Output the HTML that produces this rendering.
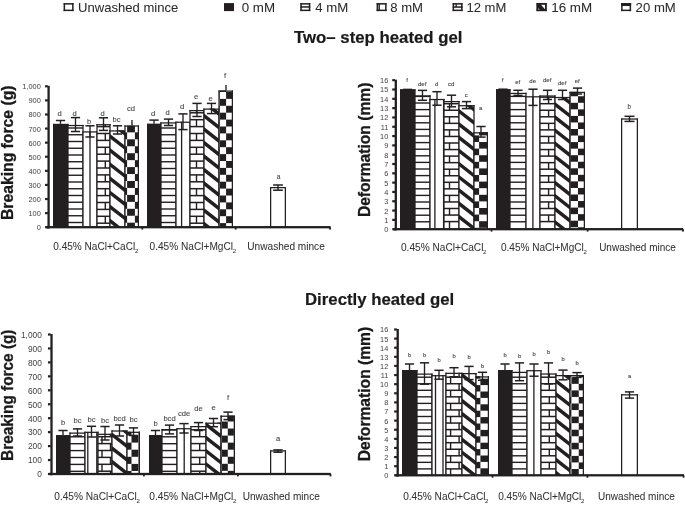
<!DOCTYPE html>
<html><head><meta charset="utf-8"><style>
html,body{margin:0;padding:0;background:#fff;}
body{width:685px;height:505px;overflow:hidden;}
svg{display:block;font-family:"Liberation Sans",sans-serif;will-change:transform;filter:blur(0.3px);}
</style></head><body>
<svg width="685" height="505" viewBox="0 0 685 505">
<defs><clipPath id="c0"><rect x="53" y="123.9" width="15" height="103.3"/></clipPath><clipPath id="c1"><rect x="68" y="124.9" width="15" height="102.3"/></clipPath><clipPath id="c2"><rect x="83" y="131.3" width="14" height="95.9"/></clipPath><clipPath id="c3"><rect x="97" y="124.1" width="13" height="103.1"/></clipPath><clipPath id="c4"><rect x="110" y="130.3" width="15" height="96.9"/></clipPath><clipPath id="c5"><rect x="125" y="125.4" width="14" height="101.8"/></clipPath><clipPath id="c6"><rect x="147" y="123.8" width="14" height="103.4"/></clipPath><clipPath id="c7"><rect x="161" y="122.3" width="15" height="104.9"/></clipPath><clipPath id="c8"><rect x="176" y="121.6" width="14" height="105.6"/></clipPath><clipPath id="c9"><rect x="190" y="110" width="14" height="117.2"/></clipPath><clipPath id="c10"><rect x="204" y="108.5" width="15" height="118.7"/></clipPath><clipPath id="c11"><rect x="219" y="90.5" width="14" height="136.7"/></clipPath><clipPath id="c12"><rect x="270" y="187" width="16" height="40.2"/></clipPath><clipPath id="c13"><rect x="400" y="89.4" width="15" height="139.8"/></clipPath><clipPath id="c14"><rect x="415" y="95.3" width="15" height="133.9"/></clipPath><clipPath id="c15"><rect x="430" y="98.9" width="14" height="130.3"/></clipPath><clipPath id="c16"><rect x="444" y="101" width="15" height="128.2"/></clipPath><clipPath id="c17"><rect x="459" y="105.1" width="15" height="124.1"/></clipPath><clipPath id="c18"><rect x="474" y="132.2" width="14" height="97"/></clipPath><clipPath id="c19"><rect x="496" y="89.2" width="14" height="140"/></clipPath><clipPath id="c20"><rect x="510" y="92.8" width="16" height="136.4"/></clipPath><clipPath id="c21"><rect x="526" y="96.2" width="14" height="133"/></clipPath><clipPath id="c22"><rect x="540" y="95.4" width="15" height="133.8"/></clipPath><clipPath id="c23"><rect x="555" y="96.9" width="15" height="132.3"/></clipPath><clipPath id="c24"><rect x="570" y="91.8" width="15" height="137.4"/></clipPath><clipPath id="c25"><rect x="621" y="118.4" width="17" height="110.8"/></clipPath><clipPath id="c26"><rect x="56" y="435.2" width="14" height="38.8"/></clipPath><clipPath id="c27"><rect x="70" y="432.5" width="15" height="41.5"/></clipPath><clipPath id="c28"><rect x="85" y="431.7" width="13" height="42.3"/></clipPath><clipPath id="c29"><rect x="98" y="433.7" width="14" height="40.3"/></clipPath><clipPath id="c30"><rect x="112" y="430.4" width="15" height="43.6"/></clipPath><clipPath id="c31"><rect x="127" y="431.7" width="13" height="42.3"/></clipPath><clipPath id="c32"><rect x="149" y="435" width="13" height="39"/></clipPath><clipPath id="c33"><rect x="162" y="429.1" width="15" height="44.9"/></clipPath><clipPath id="c34"><rect x="177" y="428.1" width="14" height="45.9"/></clipPath><clipPath id="c35"><rect x="191" y="426" width="15" height="48"/></clipPath><clipPath id="c36"><rect x="206" y="422.6" width="15" height="51.4"/></clipPath><clipPath id="c37"><rect x="221" y="415.6" width="14" height="58.4"/></clipPath><clipPath id="c38"><rect x="270" y="450.3" width="16" height="23.7"/></clipPath><clipPath id="c39"><rect x="402" y="370.1" width="15" height="105.2"/></clipPath><clipPath id="c40"><rect x="417" y="373.5" width="15" height="101.8"/></clipPath><clipPath id="c41"><rect x="432" y="375.1" width="14" height="100.2"/></clipPath><clipPath id="c42"><rect x="446" y="372.7" width="16" height="102.6"/></clipPath><clipPath id="c43"><rect x="462" y="373" width="14" height="102.3"/></clipPath><clipPath id="c44"><rect x="476" y="376.3" width="13" height="99"/></clipPath><clipPath id="c45"><rect x="498" y="370.1" width="14" height="105.2"/></clipPath><clipPath id="c46"><rect x="512" y="371.8" width="15" height="103.5"/></clipPath><clipPath id="c47"><rect x="527" y="370.1" width="14" height="105.2"/></clipPath><clipPath id="c48"><rect x="541" y="373.4" width="15" height="101.9"/></clipPath><clipPath id="c49"><rect x="556" y="375" width="14" height="100.3"/></clipPath><clipPath id="c50"><rect x="570" y="375" width="14" height="100.3"/></clipPath><clipPath id="c51"><rect x="621" y="394.2" width="17" height="81.1"/></clipPath></defs>
<rect x="53" y="123.9" width="15" height="103.3" fill="#231f20"/>
<rect x="53" y="123.9" width="1.25" height="103.3" fill="#231f20"/>
<rect x="67.38" y="123.9" width="1.25" height="103.3" fill="#231f20"/>
<rect x="53" y="123.9" width="15.62" height="1.25" fill="#231f20"/>
<line x1="60.5" y1="120.5" x2="60.5" y2="123.9" stroke="#231f20" stroke-width="1.35"/>
<line x1="55.9" y1="120.5" x2="65.1" y2="120.5" stroke="#231f20" stroke-width="1.5"/>
<text x="59.5" y="116.14" font-size="7.6" text-anchor="middle" font-weight="normal" fill="#444" stroke="#444" stroke-width="0.1">d</text>
<rect x="68" y="124.9" width="15" height="102.3" fill="#fff"/>
<g clip-path="url(#c1)">
<rect x="68" y="221.8" width="15" height="1.4" fill="#231f20"/>
<rect x="68" y="215.05" width="15" height="1.4" fill="#231f20"/>
<rect x="68" y="208.3" width="15" height="1.4" fill="#231f20"/>
<rect x="68" y="201.55" width="15" height="1.4" fill="#231f20"/>
<rect x="68" y="194.8" width="15" height="1.4" fill="#231f20"/>
<rect x="68" y="188.05" width="15" height="1.4" fill="#231f20"/>
<rect x="68" y="181.3" width="15" height="1.4" fill="#231f20"/>
<rect x="68" y="174.55" width="15" height="1.4" fill="#231f20"/>
<rect x="68" y="167.8" width="15" height="1.4" fill="#231f20"/>
<rect x="68" y="161.05" width="15" height="1.4" fill="#231f20"/>
<rect x="68" y="154.3" width="15" height="1.4" fill="#231f20"/>
<rect x="68" y="147.55" width="15" height="1.4" fill="#231f20"/>
<rect x="68" y="140.8" width="15" height="1.4" fill="#231f20"/>
<rect x="68" y="134.05" width="15" height="1.4" fill="#231f20"/>
<rect x="68" y="127.3" width="15" height="1.4" fill="#231f20"/>
</g>
<rect x="67.38" y="124.9" width="1.25" height="102.3" fill="#231f20"/>
<rect x="82.38" y="124.9" width="1.25" height="102.3" fill="#231f20"/>
<rect x="67.38" y="124.9" width="16.25" height="1.25" fill="#231f20"/>
<line x1="75.5" y1="117.6" x2="75.5" y2="131.5" stroke="#231f20" stroke-width="1.35"/>
<line x1="70.9" y1="117.6" x2="80.1" y2="117.6" stroke="#231f20" stroke-width="1.5"/>
<line x1="70.9" y1="131.5" x2="80.1" y2="131.5" stroke="#231f20" stroke-width="1.5"/>
<text x="74.5" y="116.14" font-size="7.6" text-anchor="middle" font-weight="normal" fill="#444" stroke="#444" stroke-width="0.1">d</text>
<rect x="83" y="131.3" width="14" height="95.9" fill="#fff"/>
<g clip-path="url(#c2)">
<rect x="89.35" y="131.3" width="1.3" height="95.9" fill="#231f20"/>
</g>
<rect x="82.38" y="131.3" width="1.25" height="95.9" fill="#231f20"/>
<rect x="96.38" y="131.3" width="1.25" height="95.9" fill="#231f20"/>
<rect x="82.38" y="131.3" width="15.25" height="1.25" fill="#231f20"/>
<line x1="90" y1="125.8" x2="90" y2="137" stroke="#231f20" stroke-width="1.35"/>
<line x1="85.4" y1="125.8" x2="94.6" y2="125.8" stroke="#231f20" stroke-width="1.5"/>
<line x1="85.4" y1="137" x2="94.6" y2="137" stroke="#231f20" stroke-width="1.5"/>
<text x="89" y="123.84" font-size="7.6" text-anchor="middle" font-weight="normal" fill="#444" stroke="#444" stroke-width="0.1">b</text>
<rect x="97" y="124.1" width="13" height="103.1" fill="#fff"/>
<g clip-path="url(#c3)">
<rect x="97" y="222.45" width="13" height="1.5" fill="#231f20"/>
<rect x="97" y="215.55" width="13" height="1.5" fill="#231f20"/>
<rect x="97" y="208.65" width="13" height="1.5" fill="#231f20"/>
<rect x="97" y="201.75" width="13" height="1.5" fill="#231f20"/>
<rect x="97" y="194.85" width="13" height="1.5" fill="#231f20"/>
<rect x="97" y="187.95" width="13" height="1.5" fill="#231f20"/>
<rect x="97" y="181.05" width="13" height="1.5" fill="#231f20"/>
<rect x="97" y="174.15" width="13" height="1.5" fill="#231f20"/>
<rect x="97" y="167.25" width="13" height="1.5" fill="#231f20"/>
<rect x="97" y="160.35" width="13" height="1.5" fill="#231f20"/>
<rect x="97" y="153.45" width="13" height="1.5" fill="#231f20"/>
<rect x="97" y="146.55" width="13" height="1.5" fill="#231f20"/>
<rect x="97" y="139.65" width="13" height="1.5" fill="#231f20"/>
<rect x="97" y="132.75" width="13" height="1.5" fill="#231f20"/>
<rect x="97" y="125.85" width="13" height="1.5" fill="#231f20"/>
<rect x="97" y="118.95" width="13" height="1.5" fill="#231f20"/>
<rect x="104.6" y="216.3" width="1.4" height="6.9" fill="#231f20"/>
<rect x="104.6" y="202.5" width="1.4" height="6.9" fill="#231f20"/>
<rect x="104.6" y="188.7" width="1.4" height="6.9" fill="#231f20"/>
<rect x="104.6" y="174.9" width="1.4" height="6.9" fill="#231f20"/>
<rect x="104.6" y="161.1" width="1.4" height="6.9" fill="#231f20"/>
<rect x="104.6" y="147.3" width="1.4" height="6.9" fill="#231f20"/>
<rect x="104.6" y="133.5" width="1.4" height="6.9" fill="#231f20"/>
<rect x="104.6" y="119.7" width="1.4" height="6.9" fill="#231f20"/>
</g>
<rect x="96.38" y="124.1" width="1.25" height="103.1" fill="#231f20"/>
<rect x="109.38" y="124.1" width="1.25" height="103.1" fill="#231f20"/>
<rect x="96.38" y="124.1" width="14.25" height="1.25" fill="#231f20"/>
<line x1="103.5" y1="117.8" x2="103.5" y2="130.4" stroke="#231f20" stroke-width="1.35"/>
<line x1="98.9" y1="117.8" x2="108.1" y2="117.8" stroke="#231f20" stroke-width="1.5"/>
<line x1="98.9" y1="130.4" x2="108.1" y2="130.4" stroke="#231f20" stroke-width="1.5"/>
<text x="102.5" y="115.84" font-size="7.6" text-anchor="middle" font-weight="normal" fill="#444" stroke="#444" stroke-width="0.1">d</text>
<rect x="110" y="130.3" width="15" height="96.9" fill="#fff"/>
<g clip-path="url(#c4)">
<polygon points="110,260.9 125,272.6 125,277 110,265.3" fill="#231f20"/>
<polygon points="110,246.8 125,258.5 125,262.9 110,251.2" fill="#231f20"/>
<polygon points="110,232.7 125,244.4 125,248.8 110,237.1" fill="#231f20"/>
<polygon points="110,218.6 125,230.3 125,234.7 110,223" fill="#231f20"/>
<polygon points="110,204.5 125,216.2 125,220.6 110,208.9" fill="#231f20"/>
<polygon points="110,190.4 125,202.1 125,206.5 110,194.8" fill="#231f20"/>
<polygon points="110,176.3 125,188 125,192.4 110,180.7" fill="#231f20"/>
<polygon points="110,162.2 125,173.9 125,178.3 110,166.6" fill="#231f20"/>
<polygon points="110,148.1 125,159.8 125,164.2 110,152.5" fill="#231f20"/>
<polygon points="110,134 125,145.7 125,150.1 110,138.4" fill="#231f20"/>
<polygon points="110,119.9 125,131.6 125,136 110,124.3" fill="#231f20"/>
</g>
<rect x="109.38" y="130.3" width="1.25" height="96.9" fill="#231f20"/>
<rect x="124.38" y="130.3" width="1.25" height="96.9" fill="#231f20"/>
<rect x="109.38" y="130.3" width="16.25" height="1.25" fill="#231f20"/>
<line x1="117.5" y1="125.8" x2="117.5" y2="134" stroke="#231f20" stroke-width="1.35"/>
<line x1="112.9" y1="125.8" x2="122.1" y2="125.8" stroke="#231f20" stroke-width="1.5"/>
<line x1="112.9" y1="134" x2="122.1" y2="134" stroke="#231f20" stroke-width="1.5"/>
<text x="116.5" y="122.44" font-size="7.6" text-anchor="middle" font-weight="normal" fill="#444" stroke="#444" stroke-width="0.1">bc</text>
<rect x="125" y="125.4" width="14" height="101.8" fill="#fff"/>
<g clip-path="url(#c5)">
<rect x="111.5" y="236.6" width="7.8" height="6.95" fill="#231f20"/>
<rect x="111.5" y="222.7" width="7.8" height="6.95" fill="#231f20"/>
<rect x="111.5" y="208.8" width="7.8" height="6.95" fill="#231f20"/>
<rect x="111.5" y="194.9" width="7.8" height="6.95" fill="#231f20"/>
<rect x="111.5" y="181" width="7.8" height="6.95" fill="#231f20"/>
<rect x="111.5" y="167.1" width="7.8" height="6.95" fill="#231f20"/>
<rect x="111.5" y="153.2" width="7.8" height="6.95" fill="#231f20"/>
<rect x="111.5" y="139.3" width="7.8" height="6.95" fill="#231f20"/>
<rect x="111.5" y="125.4" width="7.8" height="6.95" fill="#231f20"/>
<rect x="119.3" y="229.65" width="7.8" height="6.95" fill="#231f20"/>
<rect x="119.3" y="215.75" width="7.8" height="6.95" fill="#231f20"/>
<rect x="119.3" y="201.85" width="7.8" height="6.95" fill="#231f20"/>
<rect x="119.3" y="187.95" width="7.8" height="6.95" fill="#231f20"/>
<rect x="119.3" y="174.05" width="7.8" height="6.95" fill="#231f20"/>
<rect x="119.3" y="160.15" width="7.8" height="6.95" fill="#231f20"/>
<rect x="119.3" y="146.25" width="7.8" height="6.95" fill="#231f20"/>
<rect x="119.3" y="132.35" width="7.8" height="6.95" fill="#231f20"/>
<rect x="127.1" y="236.6" width="7.8" height="6.95" fill="#231f20"/>
<rect x="127.1" y="222.7" width="7.8" height="6.95" fill="#231f20"/>
<rect x="127.1" y="208.8" width="7.8" height="6.95" fill="#231f20"/>
<rect x="127.1" y="194.9" width="7.8" height="6.95" fill="#231f20"/>
<rect x="127.1" y="181" width="7.8" height="6.95" fill="#231f20"/>
<rect x="127.1" y="167.1" width="7.8" height="6.95" fill="#231f20"/>
<rect x="127.1" y="153.2" width="7.8" height="6.95" fill="#231f20"/>
<rect x="127.1" y="139.3" width="7.8" height="6.95" fill="#231f20"/>
<rect x="127.1" y="125.4" width="7.8" height="6.95" fill="#231f20"/>
<rect x="134.9" y="229.65" width="7.8" height="6.95" fill="#231f20"/>
<rect x="134.9" y="215.75" width="7.8" height="6.95" fill="#231f20"/>
<rect x="134.9" y="201.85" width="7.8" height="6.95" fill="#231f20"/>
<rect x="134.9" y="187.95" width="7.8" height="6.95" fill="#231f20"/>
<rect x="134.9" y="174.05" width="7.8" height="6.95" fill="#231f20"/>
<rect x="134.9" y="160.15" width="7.8" height="6.95" fill="#231f20"/>
<rect x="134.9" y="146.25" width="7.8" height="6.95" fill="#231f20"/>
<rect x="134.9" y="132.35" width="7.8" height="6.95" fill="#231f20"/>
</g>
<rect x="124.38" y="125.4" width="1.25" height="101.8" fill="#231f20"/>
<rect x="137.75" y="125.4" width="1.25" height="101.8" fill="#231f20"/>
<rect x="124.38" y="125.4" width="14.62" height="1.25" fill="#231f20"/>
<line x1="132" y1="120" x2="132" y2="125.4" stroke="#231f20" stroke-width="1.35"/>
<text x="131" y="110.94" font-size="7.6" text-anchor="middle" font-weight="normal" fill="#444" stroke="#444" stroke-width="0.1">cd</text>
<rect x="147" y="123.8" width="14" height="103.4" fill="#231f20"/>
<rect x="147" y="123.8" width="1.25" height="103.4" fill="#231f20"/>
<rect x="160.38" y="123.8" width="1.25" height="103.4" fill="#231f20"/>
<rect x="147" y="123.8" width="14.62" height="1.25" fill="#231f20"/>
<line x1="154" y1="120.1" x2="154" y2="123.8" stroke="#231f20" stroke-width="1.35"/>
<line x1="149.4" y1="120.1" x2="158.6" y2="120.1" stroke="#231f20" stroke-width="1.5"/>
<text x="153" y="116.04" font-size="7.6" text-anchor="middle" font-weight="normal" fill="#444" stroke="#444" stroke-width="0.1">d</text>
<rect x="161" y="122.3" width="15" height="104.9" fill="#fff"/>
<g clip-path="url(#c7)">
<rect x="161" y="221.8" width="15" height="1.4" fill="#231f20"/>
<rect x="161" y="215.05" width="15" height="1.4" fill="#231f20"/>
<rect x="161" y="208.3" width="15" height="1.4" fill="#231f20"/>
<rect x="161" y="201.55" width="15" height="1.4" fill="#231f20"/>
<rect x="161" y="194.8" width="15" height="1.4" fill="#231f20"/>
<rect x="161" y="188.05" width="15" height="1.4" fill="#231f20"/>
<rect x="161" y="181.3" width="15" height="1.4" fill="#231f20"/>
<rect x="161" y="174.55" width="15" height="1.4" fill="#231f20"/>
<rect x="161" y="167.8" width="15" height="1.4" fill="#231f20"/>
<rect x="161" y="161.05" width="15" height="1.4" fill="#231f20"/>
<rect x="161" y="154.3" width="15" height="1.4" fill="#231f20"/>
<rect x="161" y="147.55" width="15" height="1.4" fill="#231f20"/>
<rect x="161" y="140.8" width="15" height="1.4" fill="#231f20"/>
<rect x="161" y="134.05" width="15" height="1.4" fill="#231f20"/>
<rect x="161" y="127.3" width="15" height="1.4" fill="#231f20"/>
<rect x="161" y="120.55" width="15" height="1.4" fill="#231f20"/>
</g>
<rect x="160.38" y="122.3" width="1.25" height="104.9" fill="#231f20"/>
<rect x="175.38" y="122.3" width="1.25" height="104.9" fill="#231f20"/>
<rect x="160.38" y="122.3" width="16.25" height="1.25" fill="#231f20"/>
<line x1="168.5" y1="119.1" x2="168.5" y2="125.5" stroke="#231f20" stroke-width="1.35"/>
<line x1="163.9" y1="119.1" x2="173.1" y2="119.1" stroke="#231f20" stroke-width="1.5"/>
<line x1="163.9" y1="125.5" x2="173.1" y2="125.5" stroke="#231f20" stroke-width="1.5"/>
<text x="167.5" y="114.54" font-size="7.6" text-anchor="middle" font-weight="normal" fill="#444" stroke="#444" stroke-width="0.1">d</text>
<rect x="176" y="121.6" width="14" height="105.6" fill="#fff"/>
<g clip-path="url(#c8)">
<rect x="180.95" y="121.6" width="1.3" height="105.6" fill="#231f20"/>
</g>
<rect x="175.38" y="121.6" width="1.25" height="105.6" fill="#231f20"/>
<rect x="189.38" y="121.6" width="1.25" height="105.6" fill="#231f20"/>
<rect x="175.38" y="121.6" width="15.25" height="1.25" fill="#231f20"/>
<line x1="183" y1="113.9" x2="183" y2="129.6" stroke="#231f20" stroke-width="1.35"/>
<line x1="178.4" y1="113.9" x2="187.6" y2="113.9" stroke="#231f20" stroke-width="1.5"/>
<line x1="178.4" y1="129.6" x2="187.6" y2="129.6" stroke="#231f20" stroke-width="1.5"/>
<text x="182" y="109.44" font-size="7.6" text-anchor="middle" font-weight="normal" fill="#444" stroke="#444" stroke-width="0.1">d</text>
<rect x="190" y="110" width="14" height="117.2" fill="#fff"/>
<g clip-path="url(#c9)">
<rect x="190" y="222.45" width="14" height="1.5" fill="#231f20"/>
<rect x="190" y="215.55" width="14" height="1.5" fill="#231f20"/>
<rect x="190" y="208.65" width="14" height="1.5" fill="#231f20"/>
<rect x="190" y="201.75" width="14" height="1.5" fill="#231f20"/>
<rect x="190" y="194.85" width="14" height="1.5" fill="#231f20"/>
<rect x="190" y="187.95" width="14" height="1.5" fill="#231f20"/>
<rect x="190" y="181.05" width="14" height="1.5" fill="#231f20"/>
<rect x="190" y="174.15" width="14" height="1.5" fill="#231f20"/>
<rect x="190" y="167.25" width="14" height="1.5" fill="#231f20"/>
<rect x="190" y="160.35" width="14" height="1.5" fill="#231f20"/>
<rect x="190" y="153.45" width="14" height="1.5" fill="#231f20"/>
<rect x="190" y="146.55" width="14" height="1.5" fill="#231f20"/>
<rect x="190" y="139.65" width="14" height="1.5" fill="#231f20"/>
<rect x="190" y="132.75" width="14" height="1.5" fill="#231f20"/>
<rect x="190" y="125.85" width="14" height="1.5" fill="#231f20"/>
<rect x="190" y="118.95" width="14" height="1.5" fill="#231f20"/>
<rect x="190" y="112.05" width="14" height="1.5" fill="#231f20"/>
<rect x="190" y="105.15" width="14" height="1.5" fill="#231f20"/>
<rect x="195.8" y="216.3" width="1.4" height="6.9" fill="#231f20"/>
<rect x="195.8" y="202.5" width="1.4" height="6.9" fill="#231f20"/>
<rect x="195.8" y="188.7" width="1.4" height="6.9" fill="#231f20"/>
<rect x="195.8" y="174.9" width="1.4" height="6.9" fill="#231f20"/>
<rect x="195.8" y="161.1" width="1.4" height="6.9" fill="#231f20"/>
<rect x="195.8" y="147.3" width="1.4" height="6.9" fill="#231f20"/>
<rect x="195.8" y="133.5" width="1.4" height="6.9" fill="#231f20"/>
<rect x="195.8" y="119.7" width="1.4" height="6.9" fill="#231f20"/>
<rect x="195.8" y="105.9" width="1.4" height="6.9" fill="#231f20"/>
</g>
<rect x="189.38" y="110" width="1.25" height="117.2" fill="#231f20"/>
<rect x="203.38" y="110" width="1.25" height="117.2" fill="#231f20"/>
<rect x="189.38" y="110" width="15.25" height="1.25" fill="#231f20"/>
<line x1="197" y1="103.4" x2="197" y2="116.5" stroke="#231f20" stroke-width="1.35"/>
<line x1="192.4" y1="103.4" x2="201.6" y2="103.4" stroke="#231f20" stroke-width="1.5"/>
<line x1="192.4" y1="116.5" x2="201.6" y2="116.5" stroke="#231f20" stroke-width="1.5"/>
<text x="196" y="99.24" font-size="7.6" text-anchor="middle" font-weight="normal" fill="#444" stroke="#444" stroke-width="0.1">e</text>
<rect x="204" y="108.5" width="15" height="118.7" fill="#fff"/>
<g clip-path="url(#c10)">
<polygon points="204,235.1 219,246.8 219,251.2 204,239.5" fill="#231f20"/>
<polygon points="204,221.6 219,233.3 219,237.7 204,226" fill="#231f20"/>
<polygon points="204,208.1 219,219.8 219,224.2 204,212.5" fill="#231f20"/>
<polygon points="204,194.6 219,206.3 219,210.7 204,199" fill="#231f20"/>
<polygon points="204,181.1 219,192.8 219,197.2 204,185.5" fill="#231f20"/>
<polygon points="204,167.6 219,179.3 219,183.7 204,172" fill="#231f20"/>
<polygon points="204,154.1 219,165.8 219,170.2 204,158.5" fill="#231f20"/>
<polygon points="204,140.6 219,152.3 219,156.7 204,145" fill="#231f20"/>
<polygon points="204,127.1 219,138.8 219,143.2 204,131.5" fill="#231f20"/>
<polygon points="204,113.6 219,125.3 219,129.7 204,118" fill="#231f20"/>
<polygon points="204,100.1 219,111.8 219,116.2 204,104.5" fill="#231f20"/>
</g>
<rect x="203.38" y="108.5" width="1.25" height="118.7" fill="#231f20"/>
<rect x="218.38" y="108.5" width="1.25" height="118.7" fill="#231f20"/>
<rect x="203.38" y="108.5" width="16.25" height="1.25" fill="#231f20"/>
<line x1="211.5" y1="103.4" x2="211.5" y2="113.6" stroke="#231f20" stroke-width="1.35"/>
<line x1="206.9" y1="103.4" x2="216.1" y2="103.4" stroke="#231f20" stroke-width="1.5"/>
<line x1="206.9" y1="113.6" x2="216.1" y2="113.6" stroke="#231f20" stroke-width="1.5"/>
<text x="210.5" y="100.64" font-size="7.6" text-anchor="middle" font-weight="normal" fill="#444" stroke="#444" stroke-width="0.1">e</text>
<rect x="219" y="90.5" width="14" height="136.7" fill="#fff"/>
<g clip-path="url(#c11)">
<rect x="213.1" y="230" width="6.5" height="6.9" fill="#231f20"/>
<rect x="213.1" y="216.2" width="6.5" height="6.9" fill="#231f20"/>
<rect x="213.1" y="202.4" width="6.5" height="6.9" fill="#231f20"/>
<rect x="213.1" y="188.6" width="6.5" height="6.9" fill="#231f20"/>
<rect x="213.1" y="174.8" width="6.5" height="6.9" fill="#231f20"/>
<rect x="213.1" y="161" width="6.5" height="6.9" fill="#231f20"/>
<rect x="213.1" y="147.2" width="6.5" height="6.9" fill="#231f20"/>
<rect x="213.1" y="133.4" width="6.5" height="6.9" fill="#231f20"/>
<rect x="213.1" y="119.6" width="6.5" height="6.9" fill="#231f20"/>
<rect x="213.1" y="105.8" width="6.5" height="6.9" fill="#231f20"/>
<rect x="213.1" y="92" width="6.5" height="6.9" fill="#231f20"/>
<rect x="219.6" y="223.1" width="6.5" height="6.9" fill="#231f20"/>
<rect x="219.6" y="209.3" width="6.5" height="6.9" fill="#231f20"/>
<rect x="219.6" y="195.5" width="6.5" height="6.9" fill="#231f20"/>
<rect x="219.6" y="181.7" width="6.5" height="6.9" fill="#231f20"/>
<rect x="219.6" y="167.9" width="6.5" height="6.9" fill="#231f20"/>
<rect x="219.6" y="154.1" width="6.5" height="6.9" fill="#231f20"/>
<rect x="219.6" y="140.3" width="6.5" height="6.9" fill="#231f20"/>
<rect x="219.6" y="126.5" width="6.5" height="6.9" fill="#231f20"/>
<rect x="219.6" y="112.7" width="6.5" height="6.9" fill="#231f20"/>
<rect x="219.6" y="98.9" width="6.5" height="6.9" fill="#231f20"/>
<rect x="219.6" y="85.1" width="6.5" height="6.9" fill="#231f20"/>
<rect x="226.1" y="230" width="6.5" height="6.9" fill="#231f20"/>
<rect x="226.1" y="216.2" width="6.5" height="6.9" fill="#231f20"/>
<rect x="226.1" y="202.4" width="6.5" height="6.9" fill="#231f20"/>
<rect x="226.1" y="188.6" width="6.5" height="6.9" fill="#231f20"/>
<rect x="226.1" y="174.8" width="6.5" height="6.9" fill="#231f20"/>
<rect x="226.1" y="161" width="6.5" height="6.9" fill="#231f20"/>
<rect x="226.1" y="147.2" width="6.5" height="6.9" fill="#231f20"/>
<rect x="226.1" y="133.4" width="6.5" height="6.9" fill="#231f20"/>
<rect x="226.1" y="119.6" width="6.5" height="6.9" fill="#231f20"/>
<rect x="226.1" y="105.8" width="6.5" height="6.9" fill="#231f20"/>
<rect x="226.1" y="92" width="6.5" height="6.9" fill="#231f20"/>
<rect x="232.6" y="223.1" width="6.5" height="6.9" fill="#231f20"/>
<rect x="232.6" y="209.3" width="6.5" height="6.9" fill="#231f20"/>
<rect x="232.6" y="195.5" width="6.5" height="6.9" fill="#231f20"/>
<rect x="232.6" y="181.7" width="6.5" height="6.9" fill="#231f20"/>
<rect x="232.6" y="167.9" width="6.5" height="6.9" fill="#231f20"/>
<rect x="232.6" y="154.1" width="6.5" height="6.9" fill="#231f20"/>
<rect x="232.6" y="140.3" width="6.5" height="6.9" fill="#231f20"/>
<rect x="232.6" y="126.5" width="6.5" height="6.9" fill="#231f20"/>
<rect x="232.6" y="112.7" width="6.5" height="6.9" fill="#231f20"/>
<rect x="232.6" y="98.9" width="6.5" height="6.9" fill="#231f20"/>
<rect x="232.6" y="85.1" width="6.5" height="6.9" fill="#231f20"/>
</g>
<rect x="218.38" y="90.5" width="1.25" height="136.7" fill="#231f20"/>
<rect x="231.75" y="90.5" width="1.25" height="136.7" fill="#231f20"/>
<rect x="218.38" y="90.5" width="14.62" height="1.25" fill="#231f20"/>
<line x1="226" y1="85.1" x2="226" y2="90.5" stroke="#231f20" stroke-width="1.35"/>
<text x="225" y="77.94" font-size="7.6" text-anchor="middle" font-weight="normal" fill="#444" stroke="#444" stroke-width="0.1">f</text>
<rect x="270" y="187" width="16" height="40.2" fill="#fff"/>
<g clip-path="url(#c12)">
</g>
<rect x="270" y="187" width="1.25" height="40.2" fill="#231f20"/>
<rect x="284.75" y="187" width="1.25" height="40.2" fill="#231f20"/>
<rect x="270" y="187" width="16" height="1.25" fill="#231f20"/>
<line x1="278" y1="185" x2="278" y2="190.2" stroke="#231f20" stroke-width="1.35"/>
<line x1="273.1" y1="185" x2="282.9" y2="185" stroke="#231f20" stroke-width="1.5"/>
<line x1="273.1" y1="190.2" x2="282.9" y2="190.2" stroke="#231f20" stroke-width="1.5"/>
<text x="278.7" y="179.28" font-size="6.6" text-anchor="middle" font-weight="normal" fill="#444" stroke="#444" stroke-width="0.1">a</text>
<rect x="47.45" y="85.8" width="2.3" height="142.55" fill="#231f20"/>
<rect x="45.05" y="226.1" width="2.8" height="2.2" fill="#231f20"/>
<text x="40.8" y="230.16" font-size="7.4" text-anchor="end" font-weight="normal" fill="#444">0</text>
<rect x="45.05" y="212.01" width="2.8" height="2.2" fill="#231f20"/>
<text x="40.8" y="216.07" font-size="7.4" text-anchor="end" font-weight="normal" fill="#444">100</text>
<rect x="45.05" y="197.92" width="2.8" height="2.2" fill="#231f20"/>
<text x="40.8" y="201.98" font-size="7.4" text-anchor="end" font-weight="normal" fill="#444">200</text>
<rect x="45.05" y="183.83" width="2.8" height="2.2" fill="#231f20"/>
<text x="40.8" y="187.89" font-size="7.4" text-anchor="end" font-weight="normal" fill="#444">300</text>
<rect x="45.05" y="169.74" width="2.8" height="2.2" fill="#231f20"/>
<text x="40.8" y="173.8" font-size="7.4" text-anchor="end" font-weight="normal" fill="#444">400</text>
<rect x="45.05" y="155.65" width="2.8" height="2.2" fill="#231f20"/>
<text x="40.8" y="159.71" font-size="7.4" text-anchor="end" font-weight="normal" fill="#444">500</text>
<rect x="45.05" y="141.56" width="2.8" height="2.2" fill="#231f20"/>
<text x="40.8" y="145.62" font-size="7.4" text-anchor="end" font-weight="normal" fill="#444">600</text>
<rect x="45.05" y="127.47" width="2.8" height="2.2" fill="#231f20"/>
<text x="40.8" y="131.53" font-size="7.4" text-anchor="end" font-weight="normal" fill="#444">700</text>
<rect x="45.05" y="113.38" width="2.8" height="2.2" fill="#231f20"/>
<text x="40.8" y="117.44" font-size="7.4" text-anchor="end" font-weight="normal" fill="#444">800</text>
<rect x="45.05" y="99.29" width="2.8" height="2.2" fill="#231f20"/>
<text x="40.8" y="103.35" font-size="7.4" text-anchor="end" font-weight="normal" fill="#444">900</text>
<rect x="45.05" y="85.2" width="2.8" height="2.2" fill="#231f20"/>
<text x="40.8" y="89.26" font-size="7.4" text-anchor="end" font-weight="normal" fill="#444">1,000</text>
<rect x="47.45" y="226.05" width="283.15" height="2.3" fill="#231f20"/>
<rect x="141.4" y="227.2" width="1.8" height="2.4" fill="#231f20"/>
<rect x="234.8" y="227.2" width="1.8" height="2.4" fill="#231f20"/>
<rect x="329.1" y="227.2" width="1.8" height="2.4" fill="#231f20"/>
<rect x="46.45" y="226" width="2.6" height="2.4" fill="#231f20"/>
<text transform="translate(13.2,220) rotate(-90)" font-size="16.2" font-weight="bold" fill="#1a1a1a" stroke="#1a1a1a" stroke-width="0.3" textLength="134.5" lengthAdjust="spacingAndGlyphs">Breaking force (g)</text>
<text x="53.25" y="250.4" font-size="10" text-anchor="start" font-weight="normal" fill="#333" textLength="81.98" lengthAdjust="spacingAndGlyphs" stroke="#333" stroke-width="0.05">0.45% NaCl+CaCl</text>
<text x="134.9" y="253.3" font-size="6" text-anchor="start" font-weight="normal" fill="#333" stroke="#333" stroke-width="0.05">2</text>
<text x="149.55" y="250.4" font-size="10" text-anchor="start" font-weight="normal" fill="#333" textLength="83.5" lengthAdjust="spacingAndGlyphs" stroke="#333" stroke-width="0.05">0.45% NaCl+MgCl</text>
<text x="232.7" y="253.3" font-size="6" text-anchor="start" font-weight="normal" fill="#333" stroke="#333" stroke-width="0.05">2</text>
<text x="247.34" y="250.4" font-size="10" text-anchor="start" font-weight="normal" fill="#333" textLength="77.47" lengthAdjust="spacingAndGlyphs" stroke="#333" stroke-width="0.05">Unwashed mince</text>
<rect x="400" y="89.4" width="15" height="139.8" fill="#231f20"/>
<rect x="400" y="89.4" width="1.25" height="139.8" fill="#231f20"/>
<rect x="414.38" y="89.4" width="1.25" height="139.8" fill="#231f20"/>
<rect x="400" y="89.4" width="15.62" height="1.25" fill="#231f20"/>
<line x1="407.5" y1="89.4" x2="407.5" y2="89.4" stroke="#231f20" stroke-width="1.35"/>
<line x1="402.9" y1="89.4" x2="412.1" y2="89.4" stroke="#231f20" stroke-width="1.5"/>
<text x="407.2" y="82.26" font-size="6" text-anchor="middle" font-weight="normal" fill="#444" stroke="#444" stroke-width="0.1">f</text>
<rect x="415" y="95.3" width="15" height="133.9" fill="#fff"/>
<g clip-path="url(#c14)">
<rect x="415" y="221.1" width="15" height="1.4" fill="#231f20"/>
<rect x="415" y="214.5" width="15" height="1.4" fill="#231f20"/>
<rect x="415" y="207.9" width="15" height="1.4" fill="#231f20"/>
<rect x="415" y="201.3" width="15" height="1.4" fill="#231f20"/>
<rect x="415" y="194.7" width="15" height="1.4" fill="#231f20"/>
<rect x="415" y="188.1" width="15" height="1.4" fill="#231f20"/>
<rect x="415" y="181.5" width="15" height="1.4" fill="#231f20"/>
<rect x="415" y="174.9" width="15" height="1.4" fill="#231f20"/>
<rect x="415" y="168.3" width="15" height="1.4" fill="#231f20"/>
<rect x="415" y="161.7" width="15" height="1.4" fill="#231f20"/>
<rect x="415" y="155.1" width="15" height="1.4" fill="#231f20"/>
<rect x="415" y="148.5" width="15" height="1.4" fill="#231f20"/>
<rect x="415" y="141.9" width="15" height="1.4" fill="#231f20"/>
<rect x="415" y="135.3" width="15" height="1.4" fill="#231f20"/>
<rect x="415" y="128.7" width="15" height="1.4" fill="#231f20"/>
<rect x="415" y="122.1" width="15" height="1.4" fill="#231f20"/>
<rect x="415" y="115.5" width="15" height="1.4" fill="#231f20"/>
<rect x="415" y="108.9" width="15" height="1.4" fill="#231f20"/>
<rect x="415" y="102.3" width="15" height="1.4" fill="#231f20"/>
<rect x="415" y="95.7" width="15" height="1.4" fill="#231f20"/>
</g>
<rect x="414.38" y="95.3" width="1.25" height="133.9" fill="#231f20"/>
<rect x="429.38" y="95.3" width="1.25" height="133.9" fill="#231f20"/>
<rect x="414.38" y="95.3" width="16.25" height="1.25" fill="#231f20"/>
<line x1="422.5" y1="90.4" x2="422.5" y2="100.3" stroke="#231f20" stroke-width="1.35"/>
<line x1="417.9" y1="90.4" x2="427.1" y2="90.4" stroke="#231f20" stroke-width="1.5"/>
<line x1="417.9" y1="100.3" x2="427.1" y2="100.3" stroke="#231f20" stroke-width="1.5"/>
<text x="422.2" y="86.26" font-size="6" text-anchor="middle" font-weight="normal" fill="#444" stroke="#444" stroke-width="0.1">def</text>
<rect x="430" y="98.9" width="14" height="130.3" fill="#fff"/>
<g clip-path="url(#c15)">
<rect x="434.25" y="98.9" width="1.3" height="130.3" fill="#231f20"/>
<rect x="442.95" y="98.9" width="1.3" height="130.3" fill="#231f20"/>
</g>
<rect x="429.38" y="98.9" width="1.25" height="130.3" fill="#231f20"/>
<rect x="443.38" y="98.9" width="1.25" height="130.3" fill="#231f20"/>
<rect x="429.38" y="98.9" width="15.25" height="1.25" fill="#231f20"/>
<line x1="437" y1="91.7" x2="437" y2="105.2" stroke="#231f20" stroke-width="1.35"/>
<line x1="432.4" y1="91.7" x2="441.6" y2="91.7" stroke="#231f20" stroke-width="1.5"/>
<line x1="432.4" y1="105.2" x2="441.6" y2="105.2" stroke="#231f20" stroke-width="1.5"/>
<text x="436.7" y="86.26" font-size="6" text-anchor="middle" font-weight="normal" fill="#444" stroke="#444" stroke-width="0.1">d</text>
<rect x="444" y="101" width="15" height="128.2" fill="#fff"/>
<g clip-path="url(#c16)">
<rect x="444" y="220.85" width="15" height="1.5" fill="#231f20"/>
<rect x="444" y="214.3" width="15" height="1.5" fill="#231f20"/>
<rect x="444" y="207.75" width="15" height="1.5" fill="#231f20"/>
<rect x="444" y="201.2" width="15" height="1.5" fill="#231f20"/>
<rect x="444" y="194.65" width="15" height="1.5" fill="#231f20"/>
<rect x="444" y="188.1" width="15" height="1.5" fill="#231f20"/>
<rect x="444" y="181.55" width="15" height="1.5" fill="#231f20"/>
<rect x="444" y="175" width="15" height="1.5" fill="#231f20"/>
<rect x="444" y="168.45" width="15" height="1.5" fill="#231f20"/>
<rect x="444" y="161.9" width="15" height="1.5" fill="#231f20"/>
<rect x="444" y="155.35" width="15" height="1.5" fill="#231f20"/>
<rect x="444" y="148.8" width="15" height="1.5" fill="#231f20"/>
<rect x="444" y="142.25" width="15" height="1.5" fill="#231f20"/>
<rect x="444" y="135.7" width="15" height="1.5" fill="#231f20"/>
<rect x="444" y="129.15" width="15" height="1.5" fill="#231f20"/>
<rect x="444" y="122.6" width="15" height="1.5" fill="#231f20"/>
<rect x="444" y="116.05" width="15" height="1.5" fill="#231f20"/>
<rect x="444" y="109.5" width="15" height="1.5" fill="#231f20"/>
<rect x="444" y="102.95" width="15" height="1.5" fill="#231f20"/>
<rect x="444" y="96.4" width="15" height="1.5" fill="#231f20"/>
<rect x="448.8" y="221.6" width="1.4" height="7.6" fill="#231f20"/>
<rect x="448.8" y="208.5" width="1.4" height="6.55" fill="#231f20"/>
<rect x="448.8" y="195.4" width="1.4" height="6.55" fill="#231f20"/>
<rect x="448.8" y="182.3" width="1.4" height="6.55" fill="#231f20"/>
<rect x="448.8" y="169.2" width="1.4" height="6.55" fill="#231f20"/>
<rect x="448.8" y="156.1" width="1.4" height="6.55" fill="#231f20"/>
<rect x="448.8" y="143" width="1.4" height="6.55" fill="#231f20"/>
<rect x="448.8" y="129.9" width="1.4" height="6.55" fill="#231f20"/>
<rect x="448.8" y="116.8" width="1.4" height="6.55" fill="#231f20"/>
<rect x="448.8" y="103.7" width="1.4" height="6.55" fill="#231f20"/>
</g>
<rect x="443.38" y="101" width="1.25" height="128.2" fill="#231f20"/>
<rect x="458.38" y="101" width="1.25" height="128.2" fill="#231f20"/>
<rect x="443.38" y="101" width="16.25" height="1.25" fill="#231f20"/>
<line x1="451.5" y1="95.2" x2="451.5" y2="106.8" stroke="#231f20" stroke-width="1.35"/>
<line x1="446.9" y1="95.2" x2="456.1" y2="95.2" stroke="#231f20" stroke-width="1.5"/>
<line x1="446.9" y1="106.8" x2="456.1" y2="106.8" stroke="#231f20" stroke-width="1.5"/>
<text x="451.2" y="86.26" font-size="6" text-anchor="middle" font-weight="normal" fill="#444" stroke="#444" stroke-width="0.1">cd</text>
<rect x="459" y="105.1" width="15" height="124.1" fill="#fff"/>
<g clip-path="url(#c17)">
<polygon points="459,254.1 474,265.8 474,270.2 459,258.5" fill="#231f20"/>
<polygon points="459,240.9 474,252.6 474,257 459,245.3" fill="#231f20"/>
<polygon points="459,227.7 474,239.4 474,243.8 459,232.1" fill="#231f20"/>
<polygon points="459,214.5 474,226.2 474,230.6 459,218.9" fill="#231f20"/>
<polygon points="459,201.3 474,213 474,217.4 459,205.7" fill="#231f20"/>
<polygon points="459,188.1 474,199.8 474,204.2 459,192.5" fill="#231f20"/>
<polygon points="459,174.9 474,186.6 474,191 459,179.3" fill="#231f20"/>
<polygon points="459,161.7 474,173.4 474,177.8 459,166.1" fill="#231f20"/>
<polygon points="459,148.5 474,160.2 474,164.6 459,152.9" fill="#231f20"/>
<polygon points="459,135.3 474,147 474,151.4 459,139.7" fill="#231f20"/>
<polygon points="459,122.1 474,133.8 474,138.2 459,126.5" fill="#231f20"/>
<polygon points="459,108.9 474,120.6 474,125 459,113.3" fill="#231f20"/>
<polygon points="459,95.7 474,107.4 474,111.8 459,100.1" fill="#231f20"/>
</g>
<rect x="458.38" y="105.1" width="1.25" height="124.1" fill="#231f20"/>
<rect x="473.38" y="105.1" width="1.25" height="124.1" fill="#231f20"/>
<rect x="458.38" y="105.1" width="16.25" height="1.25" fill="#231f20"/>
<line x1="466.5" y1="101.6" x2="466.5" y2="108.6" stroke="#231f20" stroke-width="1.35"/>
<line x1="461.9" y1="101.6" x2="471.1" y2="101.6" stroke="#231f20" stroke-width="1.5"/>
<line x1="461.9" y1="108.6" x2="471.1" y2="108.6" stroke="#231f20" stroke-width="1.5"/>
<text x="466.2" y="96.56" font-size="6" text-anchor="middle" font-weight="normal" fill="#444" stroke="#444" stroke-width="0.1">c</text>
<rect x="474" y="132.2" width="14" height="97" fill="#fff"/>
<g clip-path="url(#c18)">
<rect x="462.7" y="234.4" width="8.2" height="6.6" fill="#231f20"/>
<rect x="462.7" y="221.2" width="8.2" height="6.6" fill="#231f20"/>
<rect x="462.7" y="208" width="8.2" height="6.6" fill="#231f20"/>
<rect x="462.7" y="194.8" width="8.2" height="6.6" fill="#231f20"/>
<rect x="462.7" y="181.6" width="8.2" height="6.6" fill="#231f20"/>
<rect x="462.7" y="168.4" width="8.2" height="6.6" fill="#231f20"/>
<rect x="462.7" y="155.2" width="8.2" height="6.6" fill="#231f20"/>
<rect x="462.7" y="142" width="8.2" height="6.6" fill="#231f20"/>
<rect x="462.7" y="128.8" width="8.2" height="6.6" fill="#231f20"/>
<rect x="470.9" y="227.8" width="8.2" height="6.6" fill="#231f20"/>
<rect x="470.9" y="214.6" width="8.2" height="6.6" fill="#231f20"/>
<rect x="470.9" y="201.4" width="8.2" height="6.6" fill="#231f20"/>
<rect x="470.9" y="188.2" width="8.2" height="6.6" fill="#231f20"/>
<rect x="470.9" y="175" width="8.2" height="6.6" fill="#231f20"/>
<rect x="470.9" y="161.8" width="8.2" height="6.6" fill="#231f20"/>
<rect x="470.9" y="148.6" width="8.2" height="6.6" fill="#231f20"/>
<rect x="470.9" y="135.4" width="8.2" height="6.6" fill="#231f20"/>
<rect x="479.1" y="234.4" width="8.2" height="6.6" fill="#231f20"/>
<rect x="479.1" y="221.2" width="8.2" height="6.6" fill="#231f20"/>
<rect x="479.1" y="208" width="8.2" height="6.6" fill="#231f20"/>
<rect x="479.1" y="194.8" width="8.2" height="6.6" fill="#231f20"/>
<rect x="479.1" y="181.6" width="8.2" height="6.6" fill="#231f20"/>
<rect x="479.1" y="168.4" width="8.2" height="6.6" fill="#231f20"/>
<rect x="479.1" y="155.2" width="8.2" height="6.6" fill="#231f20"/>
<rect x="479.1" y="142" width="8.2" height="6.6" fill="#231f20"/>
<rect x="479.1" y="128.8" width="8.2" height="6.6" fill="#231f20"/>
<rect x="487.3" y="227.8" width="8.2" height="6.6" fill="#231f20"/>
<rect x="487.3" y="214.6" width="8.2" height="6.6" fill="#231f20"/>
<rect x="487.3" y="201.4" width="8.2" height="6.6" fill="#231f20"/>
<rect x="487.3" y="188.2" width="8.2" height="6.6" fill="#231f20"/>
<rect x="487.3" y="175" width="8.2" height="6.6" fill="#231f20"/>
<rect x="487.3" y="161.8" width="8.2" height="6.6" fill="#231f20"/>
<rect x="487.3" y="148.6" width="8.2" height="6.6" fill="#231f20"/>
<rect x="487.3" y="135.4" width="8.2" height="6.6" fill="#231f20"/>
</g>
<rect x="473.38" y="132.2" width="1.25" height="97" fill="#231f20"/>
<rect x="486.75" y="132.2" width="1.25" height="97" fill="#231f20"/>
<rect x="473.38" y="132.2" width="14.62" height="1.25" fill="#231f20"/>
<line x1="481" y1="126.5" x2="481" y2="137.1" stroke="#231f20" stroke-width="1.35"/>
<line x1="476.4" y1="126.5" x2="485.6" y2="126.5" stroke="#231f20" stroke-width="1.5"/>
<line x1="476.4" y1="137.1" x2="485.6" y2="137.1" stroke="#231f20" stroke-width="1.5"/>
<text x="480.7" y="109.96" font-size="6" text-anchor="middle" font-weight="normal" fill="#444" stroke="#444" stroke-width="0.1">a</text>
<rect x="496" y="89.2" width="14" height="140" fill="#231f20"/>
<rect x="496" y="89.2" width="1.25" height="140" fill="#231f20"/>
<rect x="509.38" y="89.2" width="1.25" height="140" fill="#231f20"/>
<rect x="496" y="89.2" width="14.62" height="1.25" fill="#231f20"/>
<line x1="503" y1="89.2" x2="503" y2="89.2" stroke="#231f20" stroke-width="1.35"/>
<line x1="498.4" y1="89.2" x2="507.6" y2="89.2" stroke="#231f20" stroke-width="1.5"/>
<text x="502.7" y="81.56" font-size="6" text-anchor="middle" font-weight="normal" fill="#444" stroke="#444" stroke-width="0.1">f</text>
<rect x="510" y="92.8" width="16" height="136.4" fill="#fff"/>
<g clip-path="url(#c20)">
<rect x="510" y="221.1" width="16" height="1.4" fill="#231f20"/>
<rect x="510" y="214.5" width="16" height="1.4" fill="#231f20"/>
<rect x="510" y="207.9" width="16" height="1.4" fill="#231f20"/>
<rect x="510" y="201.3" width="16" height="1.4" fill="#231f20"/>
<rect x="510" y="194.7" width="16" height="1.4" fill="#231f20"/>
<rect x="510" y="188.1" width="16" height="1.4" fill="#231f20"/>
<rect x="510" y="181.5" width="16" height="1.4" fill="#231f20"/>
<rect x="510" y="174.9" width="16" height="1.4" fill="#231f20"/>
<rect x="510" y="168.3" width="16" height="1.4" fill="#231f20"/>
<rect x="510" y="161.7" width="16" height="1.4" fill="#231f20"/>
<rect x="510" y="155.1" width="16" height="1.4" fill="#231f20"/>
<rect x="510" y="148.5" width="16" height="1.4" fill="#231f20"/>
<rect x="510" y="141.9" width="16" height="1.4" fill="#231f20"/>
<rect x="510" y="135.3" width="16" height="1.4" fill="#231f20"/>
<rect x="510" y="128.7" width="16" height="1.4" fill="#231f20"/>
<rect x="510" y="122.1" width="16" height="1.4" fill="#231f20"/>
<rect x="510" y="115.5" width="16" height="1.4" fill="#231f20"/>
<rect x="510" y="108.9" width="16" height="1.4" fill="#231f20"/>
<rect x="510" y="102.3" width="16" height="1.4" fill="#231f20"/>
<rect x="510" y="95.7" width="16" height="1.4" fill="#231f20"/>
</g>
<rect x="509.38" y="92.8" width="1.25" height="136.4" fill="#231f20"/>
<rect x="525.38" y="92.8" width="1.25" height="136.4" fill="#231f20"/>
<rect x="509.38" y="92.8" width="17.25" height="1.25" fill="#231f20"/>
<line x1="518" y1="90.3" x2="518" y2="95.4" stroke="#231f20" stroke-width="1.35"/>
<line x1="513.4" y1="90.3" x2="522.6" y2="90.3" stroke="#231f20" stroke-width="1.5"/>
<line x1="513.4" y1="95.4" x2="522.6" y2="95.4" stroke="#231f20" stroke-width="1.5"/>
<text x="517.7" y="84.16" font-size="6" text-anchor="middle" font-weight="normal" fill="#444" stroke="#444" stroke-width="0.1">ef</text>
<rect x="526" y="96.2" width="14" height="133" fill="#fff"/>
<g clip-path="url(#c21)">
<rect x="532.25" y="96.2" width="1.3" height="133" fill="#231f20"/>
</g>
<rect x="525.38" y="96.2" width="1.25" height="133" fill="#231f20"/>
<rect x="539.38" y="96.2" width="1.25" height="133" fill="#231f20"/>
<rect x="525.38" y="96.2" width="15.25" height="1.25" fill="#231f20"/>
<line x1="533" y1="89.2" x2="533" y2="105.4" stroke="#231f20" stroke-width="1.35"/>
<line x1="528.4" y1="89.2" x2="537.6" y2="89.2" stroke="#231f20" stroke-width="1.5"/>
<line x1="528.4" y1="105.4" x2="537.6" y2="105.4" stroke="#231f20" stroke-width="1.5"/>
<text x="532.7" y="82.66" font-size="6" text-anchor="middle" font-weight="normal" fill="#444" stroke="#444" stroke-width="0.1">de</text>
<rect x="540" y="95.4" width="15" height="133.8" fill="#fff"/>
<g clip-path="url(#c22)">
<rect x="540" y="220.85" width="15" height="1.5" fill="#231f20"/>
<rect x="540" y="214.3" width="15" height="1.5" fill="#231f20"/>
<rect x="540" y="207.75" width="15" height="1.5" fill="#231f20"/>
<rect x="540" y="201.2" width="15" height="1.5" fill="#231f20"/>
<rect x="540" y="194.65" width="15" height="1.5" fill="#231f20"/>
<rect x="540" y="188.1" width="15" height="1.5" fill="#231f20"/>
<rect x="540" y="181.55" width="15" height="1.5" fill="#231f20"/>
<rect x="540" y="175" width="15" height="1.5" fill="#231f20"/>
<rect x="540" y="168.45" width="15" height="1.5" fill="#231f20"/>
<rect x="540" y="161.9" width="15" height="1.5" fill="#231f20"/>
<rect x="540" y="155.35" width="15" height="1.5" fill="#231f20"/>
<rect x="540" y="148.8" width="15" height="1.5" fill="#231f20"/>
<rect x="540" y="142.25" width="15" height="1.5" fill="#231f20"/>
<rect x="540" y="135.7" width="15" height="1.5" fill="#231f20"/>
<rect x="540" y="129.15" width="15" height="1.5" fill="#231f20"/>
<rect x="540" y="122.6" width="15" height="1.5" fill="#231f20"/>
<rect x="540" y="116.05" width="15" height="1.5" fill="#231f20"/>
<rect x="540" y="109.5" width="15" height="1.5" fill="#231f20"/>
<rect x="540" y="102.95" width="15" height="1.5" fill="#231f20"/>
<rect x="540" y="96.4" width="15" height="1.5" fill="#231f20"/>
<rect x="540" y="89.85" width="15" height="1.5" fill="#231f20"/>
<rect x="547.9" y="215.05" width="1.4" height="6.55" fill="#231f20"/>
<rect x="547.9" y="201.95" width="1.4" height="6.55" fill="#231f20"/>
<rect x="547.9" y="188.85" width="1.4" height="6.55" fill="#231f20"/>
<rect x="547.9" y="175.75" width="1.4" height="6.55" fill="#231f20"/>
<rect x="547.9" y="162.65" width="1.4" height="6.55" fill="#231f20"/>
<rect x="547.9" y="149.55" width="1.4" height="6.55" fill="#231f20"/>
<rect x="547.9" y="136.45" width="1.4" height="6.55" fill="#231f20"/>
<rect x="547.9" y="123.35" width="1.4" height="6.55" fill="#231f20"/>
<rect x="547.9" y="110.25" width="1.4" height="6.55" fill="#231f20"/>
<rect x="547.9" y="97.15" width="1.4" height="6.55" fill="#231f20"/>
</g>
<rect x="539.38" y="95.4" width="1.25" height="133.8" fill="#231f20"/>
<rect x="554.38" y="95.4" width="1.25" height="133.8" fill="#231f20"/>
<rect x="539.38" y="95.4" width="16.25" height="1.25" fill="#231f20"/>
<line x1="547.5" y1="90.3" x2="547.5" y2="99.5" stroke="#231f20" stroke-width="1.35"/>
<line x1="542.9" y1="90.3" x2="552.1" y2="90.3" stroke="#231f20" stroke-width="1.5"/>
<line x1="542.9" y1="99.5" x2="552.1" y2="99.5" stroke="#231f20" stroke-width="1.5"/>
<text x="547.2" y="81.56" font-size="6" text-anchor="middle" font-weight="normal" fill="#444" stroke="#444" stroke-width="0.1">def</text>
<rect x="555" y="96.9" width="15" height="132.3" fill="#fff"/>
<g clip-path="url(#c23)">
<polygon points="555,259.2 570,270.9 570,275.3 555,263.6" fill="#231f20"/>
<polygon points="555,246.1 570,257.8 570,262.2 555,250.5" fill="#231f20"/>
<polygon points="555,233 570,244.7 570,249.1 555,237.4" fill="#231f20"/>
<polygon points="555,219.9 570,231.6 570,236 555,224.3" fill="#231f20"/>
<polygon points="555,206.8 570,218.5 570,222.9 555,211.2" fill="#231f20"/>
<polygon points="555,193.7 570,205.4 570,209.8 555,198.1" fill="#231f20"/>
<polygon points="555,180.6 570,192.3 570,196.7 555,185" fill="#231f20"/>
<polygon points="555,167.5 570,179.2 570,183.6 555,171.9" fill="#231f20"/>
<polygon points="555,154.4 570,166.1 570,170.5 555,158.8" fill="#231f20"/>
<polygon points="555,141.3 570,153 570,157.4 555,145.7" fill="#231f20"/>
<polygon points="555,128.2 570,139.9 570,144.3 555,132.6" fill="#231f20"/>
<polygon points="555,115.1 570,126.8 570,131.2 555,119.5" fill="#231f20"/>
<polygon points="555,102 570,113.7 570,118.1 555,106.4" fill="#231f20"/>
<polygon points="555,88.9 570,100.6 570,105 555,93.3" fill="#231f20"/>
</g>
<rect x="554.38" y="96.9" width="1.25" height="132.3" fill="#231f20"/>
<rect x="569.38" y="96.9" width="1.25" height="132.3" fill="#231f20"/>
<rect x="554.38" y="96.9" width="16.25" height="1.25" fill="#231f20"/>
<line x1="562.5" y1="90.3" x2="562.5" y2="99.5" stroke="#231f20" stroke-width="1.35"/>
<line x1="557.9" y1="90.3" x2="567.1" y2="90.3" stroke="#231f20" stroke-width="1.5"/>
<line x1="557.9" y1="99.5" x2="567.1" y2="99.5" stroke="#231f20" stroke-width="1.5"/>
<text x="562.2" y="85.16" font-size="6" text-anchor="middle" font-weight="normal" fill="#444" stroke="#444" stroke-width="0.1">def</text>
<rect x="570" y="91.8" width="15" height="137.4" fill="#fff"/>
<g clip-path="url(#c24)">
<rect x="554.9" y="233.8" width="7.7" height="6.55" fill="#231f20"/>
<rect x="554.9" y="220.7" width="7.7" height="6.55" fill="#231f20"/>
<rect x="554.9" y="207.6" width="7.7" height="6.55" fill="#231f20"/>
<rect x="554.9" y="194.5" width="7.7" height="6.55" fill="#231f20"/>
<rect x="554.9" y="181.4" width="7.7" height="6.55" fill="#231f20"/>
<rect x="554.9" y="168.3" width="7.7" height="6.55" fill="#231f20"/>
<rect x="554.9" y="155.2" width="7.7" height="6.55" fill="#231f20"/>
<rect x="554.9" y="142.1" width="7.7" height="6.55" fill="#231f20"/>
<rect x="554.9" y="129" width="7.7" height="6.55" fill="#231f20"/>
<rect x="554.9" y="115.9" width="7.7" height="6.55" fill="#231f20"/>
<rect x="554.9" y="102.8" width="7.7" height="6.55" fill="#231f20"/>
<rect x="554.9" y="89.7" width="7.7" height="6.55" fill="#231f20"/>
<rect x="562.6" y="227.25" width="7.7" height="6.55" fill="#231f20"/>
<rect x="562.6" y="214.15" width="7.7" height="6.55" fill="#231f20"/>
<rect x="562.6" y="201.05" width="7.7" height="6.55" fill="#231f20"/>
<rect x="562.6" y="187.95" width="7.7" height="6.55" fill="#231f20"/>
<rect x="562.6" y="174.85" width="7.7" height="6.55" fill="#231f20"/>
<rect x="562.6" y="161.75" width="7.7" height="6.55" fill="#231f20"/>
<rect x="562.6" y="148.65" width="7.7" height="6.55" fill="#231f20"/>
<rect x="562.6" y="135.55" width="7.7" height="6.55" fill="#231f20"/>
<rect x="562.6" y="122.45" width="7.7" height="6.55" fill="#231f20"/>
<rect x="562.6" y="109.35" width="7.7" height="6.55" fill="#231f20"/>
<rect x="562.6" y="96.25" width="7.7" height="6.55" fill="#231f20"/>
<rect x="570.3" y="233.8" width="7.7" height="6.55" fill="#231f20"/>
<rect x="570.3" y="220.7" width="7.7" height="6.55" fill="#231f20"/>
<rect x="570.3" y="207.6" width="7.7" height="6.55" fill="#231f20"/>
<rect x="570.3" y="194.5" width="7.7" height="6.55" fill="#231f20"/>
<rect x="570.3" y="181.4" width="7.7" height="6.55" fill="#231f20"/>
<rect x="570.3" y="168.3" width="7.7" height="6.55" fill="#231f20"/>
<rect x="570.3" y="155.2" width="7.7" height="6.55" fill="#231f20"/>
<rect x="570.3" y="142.1" width="7.7" height="6.55" fill="#231f20"/>
<rect x="570.3" y="129" width="7.7" height="6.55" fill="#231f20"/>
<rect x="570.3" y="115.9" width="7.7" height="6.55" fill="#231f20"/>
<rect x="570.3" y="102.8" width="7.7" height="6.55" fill="#231f20"/>
<rect x="570.3" y="89.7" width="7.7" height="6.55" fill="#231f20"/>
<rect x="578" y="227.25" width="7.7" height="6.55" fill="#231f20"/>
<rect x="578" y="214.15" width="7.7" height="6.55" fill="#231f20"/>
<rect x="578" y="201.05" width="7.7" height="6.55" fill="#231f20"/>
<rect x="578" y="187.95" width="7.7" height="6.55" fill="#231f20"/>
<rect x="578" y="174.85" width="7.7" height="6.55" fill="#231f20"/>
<rect x="578" y="161.75" width="7.7" height="6.55" fill="#231f20"/>
<rect x="578" y="148.65" width="7.7" height="6.55" fill="#231f20"/>
<rect x="578" y="135.55" width="7.7" height="6.55" fill="#231f20"/>
<rect x="578" y="122.45" width="7.7" height="6.55" fill="#231f20"/>
<rect x="578" y="109.35" width="7.7" height="6.55" fill="#231f20"/>
<rect x="578" y="96.25" width="7.7" height="6.55" fill="#231f20"/>
</g>
<rect x="569.38" y="91.8" width="1.25" height="137.4" fill="#231f20"/>
<rect x="583.75" y="91.8" width="1.25" height="137.4" fill="#231f20"/>
<rect x="569.38" y="91.8" width="15.62" height="1.25" fill="#231f20"/>
<line x1="577.5" y1="88.1" x2="577.5" y2="94" stroke="#231f20" stroke-width="1.35"/>
<line x1="572.9" y1="88.1" x2="582.1" y2="88.1" stroke="#231f20" stroke-width="1.5"/>
<line x1="572.9" y1="94" x2="582.1" y2="94" stroke="#231f20" stroke-width="1.5"/>
<text x="577.2" y="82.96" font-size="6" text-anchor="middle" font-weight="normal" fill="#444" stroke="#444" stroke-width="0.1">ef</text>
<rect x="621" y="118.4" width="17" height="110.8" fill="#fff"/>
<g clip-path="url(#c25)">
</g>
<rect x="621" y="118.4" width="1.25" height="110.8" fill="#231f20"/>
<rect x="636.75" y="118.4" width="1.25" height="110.8" fill="#231f20"/>
<rect x="621" y="118.4" width="17" height="1.25" fill="#231f20"/>
<line x1="629.5" y1="116.3" x2="629.5" y2="121.4" stroke="#231f20" stroke-width="1.35"/>
<line x1="624.5" y1="116.3" x2="634.5" y2="116.3" stroke="#231f20" stroke-width="1.5"/>
<line x1="624.5" y1="121.4" x2="634.5" y2="121.4" stroke="#231f20" stroke-width="1.5"/>
<text x="629.2" y="109.47" font-size="6.3" text-anchor="middle" font-weight="normal" fill="#444" stroke="#444" stroke-width="0.1">b</text>
<rect x="394.65" y="79.7" width="2.3" height="150.65" fill="#231f20"/>
<rect x="392.25" y="228.1" width="2.8" height="2.2" fill="#231f20"/>
<text x="388.3" y="232.16" font-size="7.4" text-anchor="end" font-weight="normal" fill="#444">0</text>
<rect x="392.25" y="218.79" width="2.8" height="2.2" fill="#231f20"/>
<text x="388.3" y="222.85" font-size="7.4" text-anchor="end" font-weight="normal" fill="#444">1</text>
<rect x="392.25" y="209.47" width="2.8" height="2.2" fill="#231f20"/>
<text x="388.3" y="213.54" font-size="7.4" text-anchor="end" font-weight="normal" fill="#444">2</text>
<rect x="392.25" y="200.16" width="2.8" height="2.2" fill="#231f20"/>
<text x="388.3" y="204.23" font-size="7.4" text-anchor="end" font-weight="normal" fill="#444">3</text>
<rect x="392.25" y="190.85" width="2.8" height="2.2" fill="#231f20"/>
<text x="388.3" y="194.91" font-size="7.4" text-anchor="end" font-weight="normal" fill="#444">4</text>
<rect x="392.25" y="181.54" width="2.8" height="2.2" fill="#231f20"/>
<text x="388.3" y="185.6" font-size="7.4" text-anchor="end" font-weight="normal" fill="#444">5</text>
<rect x="392.25" y="172.22" width="2.8" height="2.2" fill="#231f20"/>
<text x="388.3" y="176.29" font-size="7.4" text-anchor="end" font-weight="normal" fill="#444">6</text>
<rect x="392.25" y="162.91" width="2.8" height="2.2" fill="#231f20"/>
<text x="388.3" y="166.98" font-size="7.4" text-anchor="end" font-weight="normal" fill="#444">7</text>
<rect x="392.25" y="153.6" width="2.8" height="2.2" fill="#231f20"/>
<text x="388.3" y="157.66" font-size="7.4" text-anchor="end" font-weight="normal" fill="#444">8</text>
<rect x="392.25" y="144.29" width="2.8" height="2.2" fill="#231f20"/>
<text x="388.3" y="148.35" font-size="7.4" text-anchor="end" font-weight="normal" fill="#444">9</text>
<rect x="392.25" y="134.97" width="2.8" height="2.2" fill="#231f20"/>
<text x="388.3" y="139.04" font-size="7.4" text-anchor="end" font-weight="normal" fill="#444">10</text>
<rect x="392.25" y="125.66" width="2.8" height="2.2" fill="#231f20"/>
<text x="388.3" y="129.73" font-size="7.4" text-anchor="end" font-weight="normal" fill="#444">11</text>
<rect x="392.25" y="116.35" width="2.8" height="2.2" fill="#231f20"/>
<text x="388.3" y="120.41" font-size="7.4" text-anchor="end" font-weight="normal" fill="#444">12</text>
<rect x="392.25" y="107.04" width="2.8" height="2.2" fill="#231f20"/>
<text x="388.3" y="111.1" font-size="7.4" text-anchor="end" font-weight="normal" fill="#444">13</text>
<rect x="392.25" y="97.72" width="2.8" height="2.2" fill="#231f20"/>
<text x="388.3" y="101.79" font-size="7.4" text-anchor="end" font-weight="normal" fill="#444">14</text>
<rect x="392.25" y="88.41" width="2.8" height="2.2" fill="#231f20"/>
<text x="388.3" y="92.48" font-size="7.4" text-anchor="end" font-weight="normal" fill="#444">15</text>
<rect x="392.25" y="79.1" width="2.8" height="2.2" fill="#231f20"/>
<text x="388.3" y="83.16" font-size="7.4" text-anchor="end" font-weight="normal" fill="#444">16</text>
<rect x="394.65" y="228.05" width="288.55" height="2.3" fill="#231f20"/>
<rect x="490.6" y="229.2" width="1.8" height="2.4" fill="#231f20"/>
<rect x="586.7" y="229.2" width="1.8" height="2.4" fill="#231f20"/>
<rect x="682.1" y="229.2" width="1.8" height="2.4" fill="#231f20"/>
<rect x="393.65" y="228" width="2.6" height="2.4" fill="#231f20"/>
<text transform="translate(369.8,217.1) rotate(-90)" font-size="16.2" font-weight="bold" fill="#1a1a1a" stroke="#1a1a1a" stroke-width="0.3" textLength="134.5" lengthAdjust="spacingAndGlyphs">Deformation (mm)</text>
<text x="400.95" y="250.6" font-size="10" text-anchor="start" font-weight="normal" fill="#333" textLength="82.49" lengthAdjust="spacingAndGlyphs" stroke="#333" stroke-width="0.05">0.45% NaCl+CaCl</text>
<text x="483.1" y="253.5" font-size="6" text-anchor="start" font-weight="normal" fill="#333" stroke="#333" stroke-width="0.05">2</text>
<text x="500.95" y="250.6" font-size="10" text-anchor="start" font-weight="normal" fill="#333" textLength="82.79" lengthAdjust="spacingAndGlyphs" stroke="#333" stroke-width="0.05">0.45% NaCl+MgCl</text>
<text x="583.4" y="253.5" font-size="6" text-anchor="start" font-weight="normal" fill="#333" stroke="#333" stroke-width="0.05">2</text>
<text x="599.15" y="250.6" font-size="10" text-anchor="start" font-weight="normal" fill="#333" textLength="76.66" lengthAdjust="spacingAndGlyphs" stroke="#333" stroke-width="0.05">Unwashed mince</text>
<rect x="56" y="435.2" width="14" height="38.8" fill="#231f20"/>
<rect x="56" y="435.2" width="1.25" height="38.8" fill="#231f20"/>
<rect x="69.38" y="435.2" width="1.25" height="38.8" fill="#231f20"/>
<rect x="56" y="435.2" width="14.62" height="1.25" fill="#231f20"/>
<line x1="63" y1="430.5" x2="63" y2="435.2" stroke="#231f20" stroke-width="1.35"/>
<line x1="58.4" y1="430.5" x2="67.6" y2="430.5" stroke="#231f20" stroke-width="1.5"/>
<text x="63" y="424.54" font-size="7.6" text-anchor="middle" font-weight="normal" fill="#444" stroke="#444" stroke-width="0.1">b</text>
<rect x="70" y="432.5" width="15" height="41.5" fill="#fff"/>
<g clip-path="url(#c27)">
<rect x="70" y="470.6" width="15" height="1.4" fill="#231f20"/>
<rect x="70" y="463.7" width="15" height="1.4" fill="#231f20"/>
<rect x="70" y="456.8" width="15" height="1.4" fill="#231f20"/>
<rect x="70" y="449.9" width="15" height="1.4" fill="#231f20"/>
<rect x="70" y="443" width="15" height="1.4" fill="#231f20"/>
<rect x="70" y="436.1" width="15" height="1.4" fill="#231f20"/>
</g>
<rect x="69.38" y="432.5" width="1.25" height="41.5" fill="#231f20"/>
<rect x="84.38" y="432.5" width="1.25" height="41.5" fill="#231f20"/>
<rect x="69.38" y="432.5" width="16.25" height="1.25" fill="#231f20"/>
<line x1="77.5" y1="428.9" x2="77.5" y2="436" stroke="#231f20" stroke-width="1.35"/>
<line x1="72.9" y1="428.9" x2="82.1" y2="428.9" stroke="#231f20" stroke-width="1.5"/>
<line x1="72.9" y1="436" x2="82.1" y2="436" stroke="#231f20" stroke-width="1.5"/>
<text x="77.5" y="423.04" font-size="7.6" text-anchor="middle" font-weight="normal" fill="#444" stroke="#444" stroke-width="0.1">bc</text>
<rect x="85" y="431.7" width="13" height="42.3" fill="#fff"/>
<g clip-path="url(#c28)">
<rect x="87.15" y="431.7" width="1.3" height="42.3" fill="#231f20"/>
<rect x="96.15" y="431.7" width="1.3" height="42.3" fill="#231f20"/>
</g>
<rect x="84.38" y="431.7" width="1.25" height="42.3" fill="#231f20"/>
<rect x="97.38" y="431.7" width="1.25" height="42.3" fill="#231f20"/>
<rect x="84.38" y="431.7" width="14.25" height="1.25" fill="#231f20"/>
<line x1="91.5" y1="426.3" x2="91.5" y2="437" stroke="#231f20" stroke-width="1.35"/>
<line x1="86.9" y1="426.3" x2="96.1" y2="426.3" stroke="#231f20" stroke-width="1.5"/>
<line x1="86.9" y1="437" x2="96.1" y2="437" stroke="#231f20" stroke-width="1.5"/>
<text x="91.5" y="422.04" font-size="7.6" text-anchor="middle" font-weight="normal" fill="#444" stroke="#444" stroke-width="0.1">bc</text>
<rect x="98" y="433.7" width="14" height="40.3" fill="#fff"/>
<g clip-path="url(#c29)">
<rect x="98" y="470.45" width="14" height="1.5" fill="#231f20"/>
<rect x="98" y="463.55" width="14" height="1.5" fill="#231f20"/>
<rect x="98" y="456.65" width="14" height="1.5" fill="#231f20"/>
<rect x="98" y="449.75" width="14" height="1.5" fill="#231f20"/>
<rect x="98" y="442.85" width="14" height="1.5" fill="#231f20"/>
<rect x="98" y="435.95" width="14" height="1.5" fill="#231f20"/>
<rect x="98" y="429.05" width="14" height="1.5" fill="#231f20"/>
<rect x="109.8" y="471.2" width="1.4" height="2.8" fill="#231f20"/>
<rect x="101.3" y="464.3" width="1.4" height="6.9" fill="#231f20"/>
<rect x="109.8" y="457.4" width="1.4" height="6.9" fill="#231f20"/>
<rect x="101.3" y="450.5" width="1.4" height="6.9" fill="#231f20"/>
<rect x="109.8" y="443.6" width="1.4" height="6.9" fill="#231f20"/>
<rect x="101.3" y="436.7" width="1.4" height="6.9" fill="#231f20"/>
<rect x="109.8" y="429.8" width="1.4" height="6.9" fill="#231f20"/>
</g>
<rect x="97.38" y="433.7" width="1.25" height="40.3" fill="#231f20"/>
<rect x="111.38" y="433.7" width="1.25" height="40.3" fill="#231f20"/>
<rect x="97.38" y="433.7" width="15.25" height="1.25" fill="#231f20"/>
<line x1="105" y1="426.5" x2="105" y2="440" stroke="#231f20" stroke-width="1.35"/>
<line x1="100.4" y1="426.5" x2="109.6" y2="426.5" stroke="#231f20" stroke-width="1.5"/>
<line x1="100.4" y1="440" x2="109.6" y2="440" stroke="#231f20" stroke-width="1.5"/>
<text x="105" y="423.34" font-size="7.6" text-anchor="middle" font-weight="normal" fill="#444" stroke="#444" stroke-width="0.1">bc</text>
<rect x="112" y="430.4" width="15" height="43.6" fill="#fff"/>
<g clip-path="url(#c30)">
<polygon points="112,500.4 127,512.1 127,516.5 112,504.8" fill="#231f20"/>
<polygon points="112,486.8 127,498.5 127,502.9 112,491.2" fill="#231f20"/>
<polygon points="112,473.2 127,484.9 127,489.3 112,477.6" fill="#231f20"/>
<polygon points="112,459.6 127,471.3 127,475.7 112,464" fill="#231f20"/>
<polygon points="112,446 127,457.7 127,462.1 112,450.4" fill="#231f20"/>
<polygon points="112,432.4 127,444.1 127,448.5 112,436.8" fill="#231f20"/>
<polygon points="112,418.8 127,430.5 127,434.9 112,423.2" fill="#231f20"/>
</g>
<rect x="111.38" y="430.4" width="1.25" height="43.6" fill="#231f20"/>
<rect x="126.38" y="430.4" width="1.25" height="43.6" fill="#231f20"/>
<rect x="111.38" y="430.4" width="16.25" height="1.25" fill="#231f20"/>
<line x1="119.5" y1="425" x2="119.5" y2="436" stroke="#231f20" stroke-width="1.35"/>
<line x1="114.9" y1="425" x2="124.1" y2="425" stroke="#231f20" stroke-width="1.5"/>
<line x1="114.9" y1="436" x2="124.1" y2="436" stroke="#231f20" stroke-width="1.5"/>
<text x="119.5" y="420.74" font-size="7.6" text-anchor="middle" font-weight="normal" fill="#444" stroke="#444" stroke-width="0.1">bcd</text>
<rect x="127" y="431.7" width="13" height="42.3" fill="#fff"/>
<g clip-path="url(#c31)">
<rect x="117.3" y="478.1" width="7.1" height="7.1" fill="#231f20"/>
<rect x="117.3" y="463.9" width="7.1" height="7.1" fill="#231f20"/>
<rect x="117.3" y="449.7" width="7.1" height="7.1" fill="#231f20"/>
<rect x="117.3" y="435.5" width="7.1" height="7.1" fill="#231f20"/>
<rect x="124.4" y="471" width="7.1" height="7.1" fill="#231f20"/>
<rect x="124.4" y="456.8" width="7.1" height="7.1" fill="#231f20"/>
<rect x="124.4" y="442.6" width="7.1" height="7.1" fill="#231f20"/>
<rect x="124.4" y="428.4" width="7.1" height="7.1" fill="#231f20"/>
<rect x="131.5" y="478.1" width="7.1" height="7.1" fill="#231f20"/>
<rect x="131.5" y="463.9" width="7.1" height="7.1" fill="#231f20"/>
<rect x="131.5" y="449.7" width="7.1" height="7.1" fill="#231f20"/>
<rect x="131.5" y="435.5" width="7.1" height="7.1" fill="#231f20"/>
<rect x="138.6" y="471" width="7.1" height="7.1" fill="#231f20"/>
<rect x="138.6" y="456.8" width="7.1" height="7.1" fill="#231f20"/>
<rect x="138.6" y="442.6" width="7.1" height="7.1" fill="#231f20"/>
<rect x="138.6" y="428.4" width="7.1" height="7.1" fill="#231f20"/>
</g>
<rect x="126.38" y="431.7" width="1.25" height="42.3" fill="#231f20"/>
<rect x="138.75" y="431.7" width="1.25" height="42.3" fill="#231f20"/>
<rect x="126.38" y="431.7" width="13.62" height="1.25" fill="#231f20"/>
<line x1="133.5" y1="427.9" x2="133.5" y2="435.5" stroke="#231f20" stroke-width="1.35"/>
<line x1="128.9" y1="427.9" x2="138.1" y2="427.9" stroke="#231f20" stroke-width="1.5"/>
<line x1="128.9" y1="435.5" x2="138.1" y2="435.5" stroke="#231f20" stroke-width="1.5"/>
<text x="133.5" y="422.04" font-size="7.6" text-anchor="middle" font-weight="normal" fill="#444" stroke="#444" stroke-width="0.1">bc</text>
<rect x="149" y="435" width="13" height="39" fill="#231f20"/>
<rect x="149" y="435" width="1.25" height="39" fill="#231f20"/>
<rect x="161.38" y="435" width="1.25" height="39" fill="#231f20"/>
<rect x="149" y="435" width="13.62" height="1.25" fill="#231f20"/>
<line x1="155.5" y1="430.5" x2="155.5" y2="435" stroke="#231f20" stroke-width="1.35"/>
<line x1="150.9" y1="430.5" x2="160.1" y2="430.5" stroke="#231f20" stroke-width="1.5"/>
<text x="155.5" y="425.74" font-size="7.6" text-anchor="middle" font-weight="normal" fill="#444" stroke="#444" stroke-width="0.1">b</text>
<rect x="162" y="429.1" width="15" height="44.9" fill="#fff"/>
<g clip-path="url(#c33)">
<rect x="162" y="470.6" width="15" height="1.4" fill="#231f20"/>
<rect x="162" y="463.7" width="15" height="1.4" fill="#231f20"/>
<rect x="162" y="456.8" width="15" height="1.4" fill="#231f20"/>
<rect x="162" y="449.9" width="15" height="1.4" fill="#231f20"/>
<rect x="162" y="443" width="15" height="1.4" fill="#231f20"/>
<rect x="162" y="436.1" width="15" height="1.4" fill="#231f20"/>
<rect x="162" y="429.2" width="15" height="1.4" fill="#231f20"/>
</g>
<rect x="161.38" y="429.1" width="1.25" height="44.9" fill="#231f20"/>
<rect x="176.38" y="429.1" width="1.25" height="44.9" fill="#231f20"/>
<rect x="161.38" y="429.1" width="16.25" height="1.25" fill="#231f20"/>
<line x1="169.5" y1="425.1" x2="169.5" y2="433.9" stroke="#231f20" stroke-width="1.35"/>
<line x1="164.9" y1="425.1" x2="174.1" y2="425.1" stroke="#231f20" stroke-width="1.5"/>
<line x1="164.9" y1="433.9" x2="174.1" y2="433.9" stroke="#231f20" stroke-width="1.5"/>
<text x="169.5" y="420.74" font-size="7.6" text-anchor="middle" font-weight="normal" fill="#444" stroke="#444" stroke-width="0.1">bcd</text>
<rect x="177" y="428.1" width="14" height="45.9" fill="#fff"/>
<g clip-path="url(#c34)">
<rect x="183.55" y="428.1" width="1.3" height="45.9" fill="#231f20"/>
</g>
<rect x="176.38" y="428.1" width="1.25" height="45.9" fill="#231f20"/>
<rect x="190.38" y="428.1" width="1.25" height="45.9" fill="#231f20"/>
<rect x="176.38" y="428.1" width="15.25" height="1.25" fill="#231f20"/>
<line x1="184" y1="423.6" x2="184" y2="433" stroke="#231f20" stroke-width="1.35"/>
<line x1="179.4" y1="423.6" x2="188.6" y2="423.6" stroke="#231f20" stroke-width="1.5"/>
<line x1="179.4" y1="433" x2="188.6" y2="433" stroke="#231f20" stroke-width="1.5"/>
<text x="184" y="415.84" font-size="7.6" text-anchor="middle" font-weight="normal" fill="#444" stroke="#444" stroke-width="0.1">cde</text>
<rect x="191" y="426" width="15" height="48" fill="#fff"/>
<g clip-path="url(#c35)">
<rect x="191" y="470.45" width="15" height="1.5" fill="#231f20"/>
<rect x="191" y="463.55" width="15" height="1.5" fill="#231f20"/>
<rect x="191" y="456.65" width="15" height="1.5" fill="#231f20"/>
<rect x="191" y="449.75" width="15" height="1.5" fill="#231f20"/>
<rect x="191" y="442.85" width="15" height="1.5" fill="#231f20"/>
<rect x="191" y="435.95" width="15" height="1.5" fill="#231f20"/>
<rect x="191" y="429.05" width="15" height="1.5" fill="#231f20"/>
<rect x="191" y="422.15" width="15" height="1.5" fill="#231f20"/>
<rect x="199" y="471.2" width="1.4" height="2.8" fill="#231f20"/>
<rect x="199" y="457.4" width="1.4" height="6.9" fill="#231f20"/>
<rect x="199" y="443.6" width="1.4" height="6.9" fill="#231f20"/>
<rect x="199" y="429.8" width="1.4" height="6.9" fill="#231f20"/>
</g>
<rect x="190.38" y="426" width="1.25" height="48" fill="#231f20"/>
<rect x="205.38" y="426" width="1.25" height="48" fill="#231f20"/>
<rect x="190.38" y="426" width="16.25" height="1.25" fill="#231f20"/>
<line x1="198.5" y1="422.6" x2="198.5" y2="430.5" stroke="#231f20" stroke-width="1.35"/>
<line x1="193.9" y1="422.6" x2="203.1" y2="422.6" stroke="#231f20" stroke-width="1.5"/>
<line x1="193.9" y1="430.5" x2="203.1" y2="430.5" stroke="#231f20" stroke-width="1.5"/>
<text x="198.5" y="410.84" font-size="7.6" text-anchor="middle" font-weight="normal" fill="#444" stroke="#444" stroke-width="0.1">de</text>
<rect x="206" y="422.6" width="15" height="51.4" fill="#fff"/>
<g clip-path="url(#c36)">
<polygon points="206,501.5 221,513.2 221,517.6 206,505.9" fill="#231f20"/>
<polygon points="206,488.3 221,500 221,504.4 206,492.7" fill="#231f20"/>
<polygon points="206,475.1 221,486.8 221,491.2 206,479.5" fill="#231f20"/>
<polygon points="206,461.9 221,473.6 221,478 206,466.3" fill="#231f20"/>
<polygon points="206,448.7 221,460.4 221,464.8 206,453.1" fill="#231f20"/>
<polygon points="206,435.5 221,447.2 221,451.6 206,439.9" fill="#231f20"/>
<polygon points="206,422.3 221,434 221,438.4 206,426.7" fill="#231f20"/>
<polygon points="206,409.1 221,420.8 221,425.2 206,413.5" fill="#231f20"/>
</g>
<rect x="205.38" y="422.6" width="1.25" height="51.4" fill="#231f20"/>
<rect x="220.38" y="422.6" width="1.25" height="51.4" fill="#231f20"/>
<rect x="205.38" y="422.6" width="16.25" height="1.25" fill="#231f20"/>
<line x1="213.5" y1="418.5" x2="213.5" y2="426.7" stroke="#231f20" stroke-width="1.35"/>
<line x1="208.9" y1="418.5" x2="218.1" y2="418.5" stroke="#231f20" stroke-width="1.5"/>
<line x1="208.9" y1="426.7" x2="218.1" y2="426.7" stroke="#231f20" stroke-width="1.5"/>
<text x="213.5" y="409.64" font-size="7.6" text-anchor="middle" font-weight="normal" fill="#444" stroke="#444" stroke-width="0.1">e</text>
<rect x="221" y="415.6" width="14" height="58.4" fill="#fff"/>
<g clip-path="url(#c37)">
<rect x="209.5" y="477.9" width="6.1" height="7.05" fill="#231f20"/>
<rect x="209.5" y="463.8" width="6.1" height="7.05" fill="#231f20"/>
<rect x="209.5" y="449.7" width="6.1" height="7.05" fill="#231f20"/>
<rect x="209.5" y="435.6" width="6.1" height="7.05" fill="#231f20"/>
<rect x="209.5" y="421.5" width="6.1" height="7.05" fill="#231f20"/>
<rect x="215.6" y="470.85" width="6.1" height="7.05" fill="#231f20"/>
<rect x="215.6" y="456.75" width="6.1" height="7.05" fill="#231f20"/>
<rect x="215.6" y="442.65" width="6.1" height="7.05" fill="#231f20"/>
<rect x="215.6" y="428.55" width="6.1" height="7.05" fill="#231f20"/>
<rect x="215.6" y="414.45" width="6.1" height="7.05" fill="#231f20"/>
<rect x="221.7" y="477.9" width="6.1" height="7.05" fill="#231f20"/>
<rect x="221.7" y="463.8" width="6.1" height="7.05" fill="#231f20"/>
<rect x="221.7" y="449.7" width="6.1" height="7.05" fill="#231f20"/>
<rect x="221.7" y="435.6" width="6.1" height="7.05" fill="#231f20"/>
<rect x="221.7" y="421.5" width="6.1" height="7.05" fill="#231f20"/>
<rect x="227.8" y="470.85" width="6.1" height="7.05" fill="#231f20"/>
<rect x="227.8" y="456.75" width="6.1" height="7.05" fill="#231f20"/>
<rect x="227.8" y="442.65" width="6.1" height="7.05" fill="#231f20"/>
<rect x="227.8" y="428.55" width="6.1" height="7.05" fill="#231f20"/>
<rect x="227.8" y="414.45" width="6.1" height="7.05" fill="#231f20"/>
<rect x="233.9" y="477.9" width="6.1" height="7.05" fill="#231f20"/>
<rect x="233.9" y="463.8" width="6.1" height="7.05" fill="#231f20"/>
<rect x="233.9" y="449.7" width="6.1" height="7.05" fill="#231f20"/>
<rect x="233.9" y="435.6" width="6.1" height="7.05" fill="#231f20"/>
<rect x="233.9" y="421.5" width="6.1" height="7.05" fill="#231f20"/>
</g>
<rect x="220.38" y="415.6" width="1.25" height="58.4" fill="#231f20"/>
<rect x="233.75" y="415.6" width="1.25" height="58.4" fill="#231f20"/>
<rect x="220.38" y="415.6" width="14.62" height="1.25" fill="#231f20"/>
<line x1="228" y1="412.1" x2="228" y2="419.6" stroke="#231f20" stroke-width="1.35"/>
<line x1="223.4" y1="412.1" x2="232.6" y2="412.1" stroke="#231f20" stroke-width="1.5"/>
<line x1="223.4" y1="419.6" x2="232.6" y2="419.6" stroke="#231f20" stroke-width="1.5"/>
<text x="228" y="399.94" font-size="7.6" text-anchor="middle" font-weight="normal" fill="#444" stroke="#444" stroke-width="0.1">f</text>
<rect x="270" y="450.3" width="16" height="23.7" fill="#fff"/>
<g clip-path="url(#c38)">
</g>
<rect x="270" y="450.3" width="1.25" height="23.7" fill="#231f20"/>
<rect x="284.75" y="450.3" width="1.25" height="23.7" fill="#231f20"/>
<rect x="270" y="450.3" width="16" height="1.25" fill="#231f20"/>
<line x1="278" y1="449.9" x2="278" y2="452.2" stroke="#231f20" stroke-width="1.35"/>
<line x1="273.4" y1="449.9" x2="282.6" y2="449.9" stroke="#231f20" stroke-width="1.5"/>
<line x1="273.4" y1="452.2" x2="282.6" y2="452.2" stroke="#231f20" stroke-width="1.5"/>
<text x="278" y="441.44" font-size="7.6" text-anchor="middle" font-weight="normal" fill="#444" stroke="#444" stroke-width="0.1">a</text>
<rect x="50.35" y="334" width="2.3" height="141.15" fill="#231f20"/>
<rect x="47.95" y="472.9" width="2.8" height="2.2" fill="#231f20"/>
<text x="41.9" y="477.32" font-size="8.4" text-anchor="end" font-weight="normal" fill="#444">0</text>
<rect x="47.95" y="458.95" width="2.8" height="2.2" fill="#231f20"/>
<text x="41.9" y="463.37" font-size="8.4" text-anchor="end" font-weight="normal" fill="#444">100</text>
<rect x="47.95" y="445" width="2.8" height="2.2" fill="#231f20"/>
<text x="41.9" y="449.42" font-size="8.4" text-anchor="end" font-weight="normal" fill="#444">200</text>
<rect x="47.95" y="431.05" width="2.8" height="2.2" fill="#231f20"/>
<text x="41.9" y="435.47" font-size="8.4" text-anchor="end" font-weight="normal" fill="#444">300</text>
<rect x="47.95" y="417.1" width="2.8" height="2.2" fill="#231f20"/>
<text x="41.9" y="421.52" font-size="8.4" text-anchor="end" font-weight="normal" fill="#444">400</text>
<rect x="47.95" y="403.15" width="2.8" height="2.2" fill="#231f20"/>
<text x="41.9" y="407.57" font-size="8.4" text-anchor="end" font-weight="normal" fill="#444">500</text>
<rect x="47.95" y="389.2" width="2.8" height="2.2" fill="#231f20"/>
<text x="41.9" y="393.62" font-size="8.4" text-anchor="end" font-weight="normal" fill="#444">600</text>
<rect x="47.95" y="375.25" width="2.8" height="2.2" fill="#231f20"/>
<text x="41.9" y="379.67" font-size="8.4" text-anchor="end" font-weight="normal" fill="#444">700</text>
<rect x="47.95" y="361.3" width="2.8" height="2.2" fill="#231f20"/>
<text x="41.9" y="365.72" font-size="8.4" text-anchor="end" font-weight="normal" fill="#444">800</text>
<rect x="47.95" y="347.35" width="2.8" height="2.2" fill="#231f20"/>
<text x="41.9" y="351.77" font-size="8.4" text-anchor="end" font-weight="normal" fill="#444">900</text>
<rect x="47.95" y="333.4" width="2.8" height="2.2" fill="#231f20"/>
<text x="41.9" y="337.82" font-size="8.4" text-anchor="end" font-weight="normal" fill="#444">1,000</text>
<rect x="50.35" y="472.85" width="280.45" height="2.3" fill="#231f20"/>
<rect x="143" y="474" width="1.8" height="2.4" fill="#231f20"/>
<rect x="237" y="474" width="1.8" height="2.4" fill="#231f20"/>
<rect x="329.6" y="474" width="1.8" height="2.4" fill="#231f20"/>
<rect x="49.35" y="472.8" width="2.6" height="2.4" fill="#231f20"/>
<text transform="translate(13,460.9) rotate(-90)" font-size="16.2" font-weight="bold" fill="#1a1a1a" stroke="#1a1a1a" stroke-width="0.3" textLength="131.4" lengthAdjust="spacingAndGlyphs">Breaking force (g)</text>
<text x="54.25" y="500.2" font-size="10" text-anchor="start" font-weight="normal" fill="#333" textLength="82.49" lengthAdjust="spacingAndGlyphs" stroke="#333" stroke-width="0.05">0.45% NaCl+CaCl</text>
<text x="136.4" y="503.1" font-size="6" text-anchor="start" font-weight="normal" fill="#333" stroke="#333" stroke-width="0.05">2</text>
<text x="149.24" y="500.2" font-size="10" text-anchor="start" font-weight="normal" fill="#333" textLength="84.1" lengthAdjust="spacingAndGlyphs" stroke="#333" stroke-width="0.05">0.45% NaCl+MgCl</text>
<text x="233" y="503.1" font-size="6" text-anchor="start" font-weight="normal" fill="#333" stroke="#333" stroke-width="0.05">2</text>
<text x="242.75" y="500.2" font-size="10" text-anchor="start" font-weight="normal" fill="#333" textLength="77.06" lengthAdjust="spacingAndGlyphs" stroke="#333" stroke-width="0.05">Unwashed mince</text>
<rect x="402" y="370.1" width="15" height="105.2" fill="#231f20"/>
<rect x="402" y="370.1" width="1.25" height="105.2" fill="#231f20"/>
<rect x="416.38" y="370.1" width="1.25" height="105.2" fill="#231f20"/>
<rect x="402" y="370.1" width="15.62" height="1.25" fill="#231f20"/>
<line x1="409.5" y1="364" x2="409.5" y2="370.1" stroke="#231f20" stroke-width="1.35"/>
<line x1="404.9" y1="364" x2="414.1" y2="364" stroke="#231f20" stroke-width="1.5"/>
<text x="409.5" y="357.39" font-size="5.8" text-anchor="middle" font-weight="normal" fill="#444" stroke="#444" stroke-width="0.1">b</text>
<rect x="417" y="373.5" width="15" height="101.8" fill="#fff"/>
<g clip-path="url(#c40)">
<rect x="417" y="468.2" width="15" height="1.4" fill="#231f20"/>
<rect x="417" y="461.65" width="15" height="1.4" fill="#231f20"/>
<rect x="417" y="455.1" width="15" height="1.4" fill="#231f20"/>
<rect x="417" y="448.55" width="15" height="1.4" fill="#231f20"/>
<rect x="417" y="442" width="15" height="1.4" fill="#231f20"/>
<rect x="417" y="435.45" width="15" height="1.4" fill="#231f20"/>
<rect x="417" y="428.9" width="15" height="1.4" fill="#231f20"/>
<rect x="417" y="422.35" width="15" height="1.4" fill="#231f20"/>
<rect x="417" y="415.8" width="15" height="1.4" fill="#231f20"/>
<rect x="417" y="409.25" width="15" height="1.4" fill="#231f20"/>
<rect x="417" y="402.7" width="15" height="1.4" fill="#231f20"/>
<rect x="417" y="396.15" width="15" height="1.4" fill="#231f20"/>
<rect x="417" y="389.6" width="15" height="1.4" fill="#231f20"/>
<rect x="417" y="383.05" width="15" height="1.4" fill="#231f20"/>
<rect x="417" y="376.5" width="15" height="1.4" fill="#231f20"/>
</g>
<rect x="416.38" y="373.5" width="1.25" height="101.8" fill="#231f20"/>
<rect x="431.38" y="373.5" width="1.25" height="101.8" fill="#231f20"/>
<rect x="416.38" y="373.5" width="16.25" height="1.25" fill="#231f20"/>
<line x1="424.5" y1="362.8" x2="424.5" y2="384.2" stroke="#231f20" stroke-width="1.35"/>
<line x1="419.9" y1="362.8" x2="429.1" y2="362.8" stroke="#231f20" stroke-width="1.5"/>
<line x1="419.9" y1="384.2" x2="429.1" y2="384.2" stroke="#231f20" stroke-width="1.5"/>
<text x="424.5" y="357.39" font-size="5.8" text-anchor="middle" font-weight="normal" fill="#444" stroke="#444" stroke-width="0.1">b</text>
<rect x="432" y="375.1" width="14" height="100.2" fill="#fff"/>
<g clip-path="url(#c41)">
<rect x="434.85" y="375.1" width="1.3" height="100.2" fill="#231f20"/>
<rect x="442.35" y="375.1" width="1.3" height="100.2" fill="#231f20"/>
</g>
<rect x="431.38" y="375.1" width="1.25" height="100.2" fill="#231f20"/>
<rect x="445.38" y="375.1" width="1.25" height="100.2" fill="#231f20"/>
<rect x="431.38" y="375.1" width="15.25" height="1.25" fill="#231f20"/>
<line x1="439" y1="370.3" x2="439" y2="379.2" stroke="#231f20" stroke-width="1.35"/>
<line x1="434.4" y1="370.3" x2="443.6" y2="370.3" stroke="#231f20" stroke-width="1.5"/>
<line x1="434.4" y1="379.2" x2="443.6" y2="379.2" stroke="#231f20" stroke-width="1.5"/>
<text x="439" y="362.09" font-size="5.8" text-anchor="middle" font-weight="normal" fill="#444" stroke="#444" stroke-width="0.1">b</text>
<rect x="446" y="372.7" width="16" height="102.6" fill="#fff"/>
<g clip-path="url(#c42)">
<rect x="446" y="468.15" width="16" height="1.5" fill="#231f20"/>
<rect x="446" y="461.6" width="16" height="1.5" fill="#231f20"/>
<rect x="446" y="455.05" width="16" height="1.5" fill="#231f20"/>
<rect x="446" y="448.5" width="16" height="1.5" fill="#231f20"/>
<rect x="446" y="441.95" width="16" height="1.5" fill="#231f20"/>
<rect x="446" y="435.4" width="16" height="1.5" fill="#231f20"/>
<rect x="446" y="428.85" width="16" height="1.5" fill="#231f20"/>
<rect x="446" y="422.3" width="16" height="1.5" fill="#231f20"/>
<rect x="446" y="415.75" width="16" height="1.5" fill="#231f20"/>
<rect x="446" y="409.2" width="16" height="1.5" fill="#231f20"/>
<rect x="446" y="402.65" width="16" height="1.5" fill="#231f20"/>
<rect x="446" y="396.1" width="16" height="1.5" fill="#231f20"/>
<rect x="446" y="389.55" width="16" height="1.5" fill="#231f20"/>
<rect x="446" y="383" width="16" height="1.5" fill="#231f20"/>
<rect x="446" y="376.45" width="16" height="1.5" fill="#231f20"/>
<rect x="446" y="369.9" width="16" height="1.5" fill="#231f20"/>
<rect x="449.9" y="468.9" width="1.4" height="6.4" fill="#231f20"/>
<rect x="458.4" y="462.35" width="1.4" height="6.55" fill="#231f20"/>
<rect x="449.9" y="455.8" width="1.4" height="6.55" fill="#231f20"/>
<rect x="458.4" y="449.25" width="1.4" height="6.55" fill="#231f20"/>
<rect x="449.9" y="442.7" width="1.4" height="6.55" fill="#231f20"/>
<rect x="458.4" y="436.15" width="1.4" height="6.55" fill="#231f20"/>
<rect x="449.9" y="429.6" width="1.4" height="6.55" fill="#231f20"/>
<rect x="458.4" y="423.05" width="1.4" height="6.55" fill="#231f20"/>
<rect x="449.9" y="416.5" width="1.4" height="6.55" fill="#231f20"/>
<rect x="458.4" y="409.95" width="1.4" height="6.55" fill="#231f20"/>
<rect x="449.9" y="403.4" width="1.4" height="6.55" fill="#231f20"/>
<rect x="458.4" y="396.85" width="1.4" height="6.55" fill="#231f20"/>
<rect x="449.9" y="390.3" width="1.4" height="6.55" fill="#231f20"/>
<rect x="458.4" y="383.75" width="1.4" height="6.55" fill="#231f20"/>
<rect x="449.9" y="377.2" width="1.4" height="6.55" fill="#231f20"/>
<rect x="458.4" y="370.65" width="1.4" height="6.55" fill="#231f20"/>
</g>
<rect x="445.38" y="372.7" width="1.25" height="102.6" fill="#231f20"/>
<rect x="461.38" y="372.7" width="1.25" height="102.6" fill="#231f20"/>
<rect x="445.38" y="372.7" width="17.25" height="1.25" fill="#231f20"/>
<line x1="454" y1="367.7" x2="454" y2="376.8" stroke="#231f20" stroke-width="1.35"/>
<line x1="449.4" y1="367.7" x2="458.6" y2="367.7" stroke="#231f20" stroke-width="1.5"/>
<line x1="449.4" y1="376.8" x2="458.6" y2="376.8" stroke="#231f20" stroke-width="1.5"/>
<text x="454" y="358.29" font-size="5.8" text-anchor="middle" font-weight="normal" fill="#444" stroke="#444" stroke-width="0.1">b</text>
<rect x="462" y="373" width="14" height="102.3" fill="#fff"/>
<g clip-path="url(#c43)">
<polygon points="462,501.8 476,512.72 476,517.12 462,506.2" fill="#231f20"/>
<polygon points="462,488.9 476,499.82 476,504.22 462,493.3" fill="#231f20"/>
<polygon points="462,476 476,486.92 476,491.32 462,480.4" fill="#231f20"/>
<polygon points="462,463.1 476,474.02 476,478.42 462,467.5" fill="#231f20"/>
<polygon points="462,450.2 476,461.12 476,465.52 462,454.6" fill="#231f20"/>
<polygon points="462,437.3 476,448.22 476,452.62 462,441.7" fill="#231f20"/>
<polygon points="462,424.4 476,435.32 476,439.72 462,428.8" fill="#231f20"/>
<polygon points="462,411.5 476,422.42 476,426.82 462,415.9" fill="#231f20"/>
<polygon points="462,398.6 476,409.52 476,413.92 462,403" fill="#231f20"/>
<polygon points="462,385.7 476,396.62 476,401.02 462,390.1" fill="#231f20"/>
<polygon points="462,372.8 476,383.72 476,388.12 462,377.2" fill="#231f20"/>
<polygon points="462,359.9 476,370.82 476,375.22 462,364.3" fill="#231f20"/>
</g>
<rect x="461.38" y="373" width="1.25" height="102.3" fill="#231f20"/>
<rect x="475.38" y="373" width="1.25" height="102.3" fill="#231f20"/>
<rect x="461.38" y="373" width="15.25" height="1.25" fill="#231f20"/>
<line x1="469" y1="366.4" x2="469" y2="379.6" stroke="#231f20" stroke-width="1.35"/>
<line x1="464.4" y1="366.4" x2="473.6" y2="366.4" stroke="#231f20" stroke-width="1.5"/>
<line x1="464.4" y1="379.6" x2="473.6" y2="379.6" stroke="#231f20" stroke-width="1.5"/>
<text x="469" y="359.49" font-size="5.8" text-anchor="middle" font-weight="normal" fill="#444" stroke="#444" stroke-width="0.1">b</text>
<rect x="476" y="376.3" width="13" height="99" fill="#fff"/>
<g clip-path="url(#c44)">
<rect x="464.2" y="481.1" width="8.1" height="6.4" fill="#231f20"/>
<rect x="464.2" y="468.3" width="8.1" height="6.4" fill="#231f20"/>
<rect x="464.2" y="455.5" width="8.1" height="6.4" fill="#231f20"/>
<rect x="464.2" y="442.7" width="8.1" height="6.4" fill="#231f20"/>
<rect x="464.2" y="429.9" width="8.1" height="6.4" fill="#231f20"/>
<rect x="464.2" y="417.1" width="8.1" height="6.4" fill="#231f20"/>
<rect x="464.2" y="404.3" width="8.1" height="6.4" fill="#231f20"/>
<rect x="464.2" y="391.5" width="8.1" height="6.4" fill="#231f20"/>
<rect x="464.2" y="378.7" width="8.1" height="6.4" fill="#231f20"/>
<rect x="472.3" y="474.7" width="8.1" height="6.4" fill="#231f20"/>
<rect x="472.3" y="461.9" width="8.1" height="6.4" fill="#231f20"/>
<rect x="472.3" y="449.1" width="8.1" height="6.4" fill="#231f20"/>
<rect x="472.3" y="436.3" width="8.1" height="6.4" fill="#231f20"/>
<rect x="472.3" y="423.5" width="8.1" height="6.4" fill="#231f20"/>
<rect x="472.3" y="410.7" width="8.1" height="6.4" fill="#231f20"/>
<rect x="472.3" y="397.9" width="8.1" height="6.4" fill="#231f20"/>
<rect x="472.3" y="385.1" width="8.1" height="6.4" fill="#231f20"/>
<rect x="472.3" y="372.3" width="8.1" height="6.4" fill="#231f20"/>
<rect x="480.4" y="481.1" width="8.1" height="6.4" fill="#231f20"/>
<rect x="480.4" y="468.3" width="8.1" height="6.4" fill="#231f20"/>
<rect x="480.4" y="455.5" width="8.1" height="6.4" fill="#231f20"/>
<rect x="480.4" y="442.7" width="8.1" height="6.4" fill="#231f20"/>
<rect x="480.4" y="429.9" width="8.1" height="6.4" fill="#231f20"/>
<rect x="480.4" y="417.1" width="8.1" height="6.4" fill="#231f20"/>
<rect x="480.4" y="404.3" width="8.1" height="6.4" fill="#231f20"/>
<rect x="480.4" y="391.5" width="8.1" height="6.4" fill="#231f20"/>
<rect x="480.4" y="378.7" width="8.1" height="6.4" fill="#231f20"/>
<rect x="488.5" y="474.7" width="8.1" height="6.4" fill="#231f20"/>
<rect x="488.5" y="461.9" width="8.1" height="6.4" fill="#231f20"/>
<rect x="488.5" y="449.1" width="8.1" height="6.4" fill="#231f20"/>
<rect x="488.5" y="436.3" width="8.1" height="6.4" fill="#231f20"/>
<rect x="488.5" y="423.5" width="8.1" height="6.4" fill="#231f20"/>
<rect x="488.5" y="410.7" width="8.1" height="6.4" fill="#231f20"/>
<rect x="488.5" y="397.9" width="8.1" height="6.4" fill="#231f20"/>
<rect x="488.5" y="385.1" width="8.1" height="6.4" fill="#231f20"/>
<rect x="488.5" y="372.3" width="8.1" height="6.4" fill="#231f20"/>
</g>
<rect x="475.38" y="376.3" width="1.25" height="99" fill="#231f20"/>
<rect x="487.75" y="376.3" width="1.25" height="99" fill="#231f20"/>
<rect x="475.38" y="376.3" width="13.62" height="1.25" fill="#231f20"/>
<line x1="482.5" y1="372.3" x2="482.5" y2="380.3" stroke="#231f20" stroke-width="1.35"/>
<line x1="477.9" y1="372.3" x2="487.1" y2="372.3" stroke="#231f20" stroke-width="1.5"/>
<line x1="477.9" y1="380.3" x2="487.1" y2="380.3" stroke="#231f20" stroke-width="1.5"/>
<text x="482.5" y="368.09" font-size="5.8" text-anchor="middle" font-weight="normal" fill="#444" stroke="#444" stroke-width="0.1">b</text>
<rect x="498" y="370.1" width="14" height="105.2" fill="#231f20"/>
<rect x="498" y="370.1" width="1.25" height="105.2" fill="#231f20"/>
<rect x="511.38" y="370.1" width="1.25" height="105.2" fill="#231f20"/>
<rect x="498" y="370.1" width="14.62" height="1.25" fill="#231f20"/>
<line x1="505" y1="364" x2="505" y2="370.1" stroke="#231f20" stroke-width="1.35"/>
<line x1="500.4" y1="364" x2="509.6" y2="364" stroke="#231f20" stroke-width="1.5"/>
<text x="505" y="357.09" font-size="5.8" text-anchor="middle" font-weight="normal" fill="#444" stroke="#444" stroke-width="0.1">b</text>
<rect x="512" y="371.8" width="15" height="103.5" fill="#fff"/>
<g clip-path="url(#c46)">
<rect x="512" y="468.2" width="15" height="1.4" fill="#231f20"/>
<rect x="512" y="461.65" width="15" height="1.4" fill="#231f20"/>
<rect x="512" y="455.1" width="15" height="1.4" fill="#231f20"/>
<rect x="512" y="448.55" width="15" height="1.4" fill="#231f20"/>
<rect x="512" y="442" width="15" height="1.4" fill="#231f20"/>
<rect x="512" y="435.45" width="15" height="1.4" fill="#231f20"/>
<rect x="512" y="428.9" width="15" height="1.4" fill="#231f20"/>
<rect x="512" y="422.35" width="15" height="1.4" fill="#231f20"/>
<rect x="512" y="415.8" width="15" height="1.4" fill="#231f20"/>
<rect x="512" y="409.25" width="15" height="1.4" fill="#231f20"/>
<rect x="512" y="402.7" width="15" height="1.4" fill="#231f20"/>
<rect x="512" y="396.15" width="15" height="1.4" fill="#231f20"/>
<rect x="512" y="389.6" width="15" height="1.4" fill="#231f20"/>
<rect x="512" y="383.05" width="15" height="1.4" fill="#231f20"/>
<rect x="512" y="376.5" width="15" height="1.4" fill="#231f20"/>
<rect x="512" y="369.95" width="15" height="1.4" fill="#231f20"/>
</g>
<rect x="511.38" y="371.8" width="1.25" height="103.5" fill="#231f20"/>
<rect x="526.38" y="371.8" width="1.25" height="103.5" fill="#231f20"/>
<rect x="511.38" y="371.8" width="16.25" height="1.25" fill="#231f20"/>
<line x1="519.5" y1="362.9" x2="519.5" y2="380.7" stroke="#231f20" stroke-width="1.35"/>
<line x1="514.9" y1="362.9" x2="524.1" y2="362.9" stroke="#231f20" stroke-width="1.5"/>
<line x1="514.9" y1="380.7" x2="524.1" y2="380.7" stroke="#231f20" stroke-width="1.5"/>
<text x="519.5" y="358.19" font-size="5.8" text-anchor="middle" font-weight="normal" fill="#444" stroke="#444" stroke-width="0.1">b</text>
<rect x="527" y="370.1" width="14" height="105.2" fill="#fff"/>
<g clip-path="url(#c47)">
<rect x="533.25" y="370.1" width="1.3" height="105.2" fill="#231f20"/>
</g>
<rect x="526.38" y="370.1" width="1.25" height="105.2" fill="#231f20"/>
<rect x="540.38" y="370.1" width="1.25" height="105.2" fill="#231f20"/>
<rect x="526.38" y="370.1" width="15.25" height="1.25" fill="#231f20"/>
<line x1="534" y1="364" x2="534" y2="376.2" stroke="#231f20" stroke-width="1.35"/>
<line x1="529.4" y1="364" x2="538.6" y2="364" stroke="#231f20" stroke-width="1.5"/>
<line x1="529.4" y1="376.2" x2="538.6" y2="376.2" stroke="#231f20" stroke-width="1.5"/>
<text x="534" y="355.79" font-size="5.8" text-anchor="middle" font-weight="normal" fill="#444" stroke="#444" stroke-width="0.1">b</text>
<rect x="541" y="373.4" width="15" height="101.9" fill="#fff"/>
<g clip-path="url(#c48)">
<rect x="541" y="468.15" width="15" height="1.5" fill="#231f20"/>
<rect x="541" y="461.6" width="15" height="1.5" fill="#231f20"/>
<rect x="541" y="455.05" width="15" height="1.5" fill="#231f20"/>
<rect x="541" y="448.5" width="15" height="1.5" fill="#231f20"/>
<rect x="541" y="441.95" width="15" height="1.5" fill="#231f20"/>
<rect x="541" y="435.4" width="15" height="1.5" fill="#231f20"/>
<rect x="541" y="428.85" width="15" height="1.5" fill="#231f20"/>
<rect x="541" y="422.3" width="15" height="1.5" fill="#231f20"/>
<rect x="541" y="415.75" width="15" height="1.5" fill="#231f20"/>
<rect x="541" y="409.2" width="15" height="1.5" fill="#231f20"/>
<rect x="541" y="402.65" width="15" height="1.5" fill="#231f20"/>
<rect x="541" y="396.1" width="15" height="1.5" fill="#231f20"/>
<rect x="541" y="389.55" width="15" height="1.5" fill="#231f20"/>
<rect x="541" y="383" width="15" height="1.5" fill="#231f20"/>
<rect x="541" y="376.45" width="15" height="1.5" fill="#231f20"/>
<rect x="541" y="369.9" width="15" height="1.5" fill="#231f20"/>
<rect x="548.6" y="462.35" width="1.4" height="6.55" fill="#231f20"/>
<rect x="548.6" y="449.25" width="1.4" height="6.55" fill="#231f20"/>
<rect x="548.6" y="436.15" width="1.4" height="6.55" fill="#231f20"/>
<rect x="548.6" y="423.05" width="1.4" height="6.55" fill="#231f20"/>
<rect x="548.6" y="409.95" width="1.4" height="6.55" fill="#231f20"/>
<rect x="548.6" y="396.85" width="1.4" height="6.55" fill="#231f20"/>
<rect x="548.6" y="383.75" width="1.4" height="6.55" fill="#231f20"/>
<rect x="548.6" y="370.65" width="1.4" height="6.55" fill="#231f20"/>
</g>
<rect x="540.38" y="373.4" width="1.25" height="101.9" fill="#231f20"/>
<rect x="555.38" y="373.4" width="1.25" height="101.9" fill="#231f20"/>
<rect x="540.38" y="373.4" width="16.25" height="1.25" fill="#231f20"/>
<line x1="548.5" y1="362.9" x2="548.5" y2="383.9" stroke="#231f20" stroke-width="1.35"/>
<line x1="543.9" y1="362.9" x2="553.1" y2="362.9" stroke="#231f20" stroke-width="1.5"/>
<line x1="543.9" y1="383.9" x2="553.1" y2="383.9" stroke="#231f20" stroke-width="1.5"/>
<text x="548.5" y="354.49" font-size="5.8" text-anchor="middle" font-weight="normal" fill="#444" stroke="#444" stroke-width="0.1">b</text>
<rect x="556" y="375" width="14" height="100.3" fill="#fff"/>
<g clip-path="url(#c49)">
<polygon points="556,496.8 570,507.72 570,512.12 556,501.2" fill="#231f20"/>
<polygon points="556,483.7 570,494.62 570,499.02 556,488.1" fill="#231f20"/>
<polygon points="556,470.6 570,481.52 570,485.92 556,475" fill="#231f20"/>
<polygon points="556,457.5 570,468.42 570,472.82 556,461.9" fill="#231f20"/>
<polygon points="556,444.4 570,455.32 570,459.72 556,448.8" fill="#231f20"/>
<polygon points="556,431.3 570,442.22 570,446.62 556,435.7" fill="#231f20"/>
<polygon points="556,418.2 570,429.12 570,433.52 556,422.6" fill="#231f20"/>
<polygon points="556,405.1 570,416.02 570,420.42 556,409.5" fill="#231f20"/>
<polygon points="556,392 570,402.92 570,407.32 556,396.4" fill="#231f20"/>
<polygon points="556,378.9 570,389.82 570,394.22 556,383.3" fill="#231f20"/>
<polygon points="556,365.8 570,376.72 570,381.12 556,370.2" fill="#231f20"/>
</g>
<rect x="555.38" y="375" width="1.25" height="100.3" fill="#231f20"/>
<rect x="569.38" y="375" width="1.25" height="100.3" fill="#231f20"/>
<rect x="555.38" y="375" width="15.25" height="1.25" fill="#231f20"/>
<line x1="563" y1="370.1" x2="563" y2="379.8" stroke="#231f20" stroke-width="1.35"/>
<line x1="558.4" y1="370.1" x2="567.6" y2="370.1" stroke="#231f20" stroke-width="1.5"/>
<line x1="558.4" y1="379.8" x2="567.6" y2="379.8" stroke="#231f20" stroke-width="1.5"/>
<text x="563" y="360.59" font-size="5.8" text-anchor="middle" font-weight="normal" fill="#444" stroke="#444" stroke-width="0.1">b</text>
<rect x="570" y="375" width="14" height="100.3" fill="#fff"/>
<g clip-path="url(#c50)">
<rect x="556.7" y="482.1" width="7.35" height="6.55" fill="#231f20"/>
<rect x="556.7" y="469" width="7.35" height="6.55" fill="#231f20"/>
<rect x="556.7" y="455.9" width="7.35" height="6.55" fill="#231f20"/>
<rect x="556.7" y="442.8" width="7.35" height="6.55" fill="#231f20"/>
<rect x="556.7" y="429.7" width="7.35" height="6.55" fill="#231f20"/>
<rect x="556.7" y="416.6" width="7.35" height="6.55" fill="#231f20"/>
<rect x="556.7" y="403.5" width="7.35" height="6.55" fill="#231f20"/>
<rect x="556.7" y="390.4" width="7.35" height="6.55" fill="#231f20"/>
<rect x="556.7" y="377.3" width="7.35" height="6.55" fill="#231f20"/>
<rect x="564.05" y="475.55" width="7.35" height="6.55" fill="#231f20"/>
<rect x="564.05" y="462.45" width="7.35" height="6.55" fill="#231f20"/>
<rect x="564.05" y="449.35" width="7.35" height="6.55" fill="#231f20"/>
<rect x="564.05" y="436.25" width="7.35" height="6.55" fill="#231f20"/>
<rect x="564.05" y="423.15" width="7.35" height="6.55" fill="#231f20"/>
<rect x="564.05" y="410.05" width="7.35" height="6.55" fill="#231f20"/>
<rect x="564.05" y="396.95" width="7.35" height="6.55" fill="#231f20"/>
<rect x="564.05" y="383.85" width="7.35" height="6.55" fill="#231f20"/>
<rect x="564.05" y="370.75" width="7.35" height="6.55" fill="#231f20"/>
<rect x="571.4" y="482.1" width="7.35" height="6.55" fill="#231f20"/>
<rect x="571.4" y="469" width="7.35" height="6.55" fill="#231f20"/>
<rect x="571.4" y="455.9" width="7.35" height="6.55" fill="#231f20"/>
<rect x="571.4" y="442.8" width="7.35" height="6.55" fill="#231f20"/>
<rect x="571.4" y="429.7" width="7.35" height="6.55" fill="#231f20"/>
<rect x="571.4" y="416.6" width="7.35" height="6.55" fill="#231f20"/>
<rect x="571.4" y="403.5" width="7.35" height="6.55" fill="#231f20"/>
<rect x="571.4" y="390.4" width="7.35" height="6.55" fill="#231f20"/>
<rect x="571.4" y="377.3" width="7.35" height="6.55" fill="#231f20"/>
<rect x="578.75" y="475.55" width="7.35" height="6.55" fill="#231f20"/>
<rect x="578.75" y="462.45" width="7.35" height="6.55" fill="#231f20"/>
<rect x="578.75" y="449.35" width="7.35" height="6.55" fill="#231f20"/>
<rect x="578.75" y="436.25" width="7.35" height="6.55" fill="#231f20"/>
<rect x="578.75" y="423.15" width="7.35" height="6.55" fill="#231f20"/>
<rect x="578.75" y="410.05" width="7.35" height="6.55" fill="#231f20"/>
<rect x="578.75" y="396.95" width="7.35" height="6.55" fill="#231f20"/>
<rect x="578.75" y="383.85" width="7.35" height="6.55" fill="#231f20"/>
<rect x="578.75" y="370.75" width="7.35" height="6.55" fill="#231f20"/>
</g>
<rect x="569.38" y="375" width="1.25" height="100.3" fill="#231f20"/>
<rect x="582.75" y="375" width="1.25" height="100.3" fill="#231f20"/>
<rect x="569.38" y="375" width="14.62" height="1.25" fill="#231f20"/>
<line x1="577" y1="372.6" x2="577" y2="377.4" stroke="#231f20" stroke-width="1.35"/>
<line x1="572.4" y1="372.6" x2="581.6" y2="372.6" stroke="#231f20" stroke-width="1.5"/>
<line x1="572.4" y1="377.4" x2="581.6" y2="377.4" stroke="#231f20" stroke-width="1.5"/>
<text x="577" y="364.59" font-size="5.8" text-anchor="middle" font-weight="normal" fill="#444" stroke="#444" stroke-width="0.1">b</text>
<rect x="621" y="394.2" width="17" height="81.1" fill="#fff"/>
<g clip-path="url(#c51)">
</g>
<rect x="621" y="394.2" width="1.25" height="81.1" fill="#231f20"/>
<rect x="636.75" y="394.2" width="1.25" height="81.1" fill="#231f20"/>
<rect x="621" y="394.2" width="17" height="1.25" fill="#231f20"/>
<line x1="629.5" y1="391.9" x2="629.5" y2="398.1" stroke="#231f20" stroke-width="1.35"/>
<line x1="624.9" y1="391.9" x2="634.1" y2="391.9" stroke="#231f20" stroke-width="1.5"/>
<line x1="624.9" y1="398.1" x2="634.1" y2="398.1" stroke="#231f20" stroke-width="1.5"/>
<text x="629.5" y="377.99" font-size="5.8" text-anchor="middle" font-weight="normal" fill="#444" stroke="#444" stroke-width="0.1">a</text>
<rect x="396.55" y="329" width="2.3" height="147.45" fill="#231f20"/>
<rect x="394.15" y="474.2" width="2.8" height="2.2" fill="#231f20"/>
<text x="388.3" y="478.26" font-size="7.4" text-anchor="end" font-weight="normal" fill="#444">0</text>
<rect x="394.15" y="465.09" width="2.8" height="2.2" fill="#231f20"/>
<text x="388.3" y="469.15" font-size="7.4" text-anchor="end" font-weight="normal" fill="#444">1</text>
<rect x="394.15" y="455.97" width="2.8" height="2.2" fill="#231f20"/>
<text x="388.3" y="460.04" font-size="7.4" text-anchor="end" font-weight="normal" fill="#444">2</text>
<rect x="394.15" y="446.86" width="2.8" height="2.2" fill="#231f20"/>
<text x="388.3" y="450.93" font-size="7.4" text-anchor="end" font-weight="normal" fill="#444">3</text>
<rect x="394.15" y="437.75" width="2.8" height="2.2" fill="#231f20"/>
<text x="388.3" y="441.81" font-size="7.4" text-anchor="end" font-weight="normal" fill="#444">4</text>
<rect x="394.15" y="428.64" width="2.8" height="2.2" fill="#231f20"/>
<text x="388.3" y="432.7" font-size="7.4" text-anchor="end" font-weight="normal" fill="#444">5</text>
<rect x="394.15" y="419.52" width="2.8" height="2.2" fill="#231f20"/>
<text x="388.3" y="423.59" font-size="7.4" text-anchor="end" font-weight="normal" fill="#444">6</text>
<rect x="394.15" y="410.41" width="2.8" height="2.2" fill="#231f20"/>
<text x="388.3" y="414.48" font-size="7.4" text-anchor="end" font-weight="normal" fill="#444">7</text>
<rect x="394.15" y="401.3" width="2.8" height="2.2" fill="#231f20"/>
<text x="388.3" y="405.36" font-size="7.4" text-anchor="end" font-weight="normal" fill="#444">8</text>
<rect x="394.15" y="392.19" width="2.8" height="2.2" fill="#231f20"/>
<text x="388.3" y="396.25" font-size="7.4" text-anchor="end" font-weight="normal" fill="#444">9</text>
<rect x="394.15" y="383.07" width="2.8" height="2.2" fill="#231f20"/>
<text x="388.3" y="387.14" font-size="7.4" text-anchor="end" font-weight="normal" fill="#444">10</text>
<rect x="394.15" y="373.96" width="2.8" height="2.2" fill="#231f20"/>
<text x="388.3" y="378.03" font-size="7.4" text-anchor="end" font-weight="normal" fill="#444">11</text>
<rect x="394.15" y="364.85" width="2.8" height="2.2" fill="#231f20"/>
<text x="388.3" y="368.91" font-size="7.4" text-anchor="end" font-weight="normal" fill="#444">12</text>
<rect x="394.15" y="355.74" width="2.8" height="2.2" fill="#231f20"/>
<text x="388.3" y="359.8" font-size="7.4" text-anchor="end" font-weight="normal" fill="#444">13</text>
<rect x="394.15" y="346.62" width="2.8" height="2.2" fill="#231f20"/>
<text x="388.3" y="350.69" font-size="7.4" text-anchor="end" font-weight="normal" fill="#444">14</text>
<rect x="394.15" y="337.51" width="2.8" height="2.2" fill="#231f20"/>
<text x="388.3" y="341.58" font-size="7.4" text-anchor="end" font-weight="normal" fill="#444">15</text>
<rect x="394.15" y="328.4" width="2.8" height="2.2" fill="#231f20"/>
<text x="388.3" y="332.46" font-size="7.4" text-anchor="end" font-weight="normal" fill="#444">16</text>
<rect x="396.55" y="474.15" width="287.45" height="2.3" fill="#231f20"/>
<rect x="491.6" y="475.3" width="1.8" height="2.4" fill="#231f20"/>
<rect x="586.5" y="475.3" width="1.8" height="2.4" fill="#231f20"/>
<rect x="682.7" y="475.3" width="1.8" height="2.4" fill="#231f20"/>
<rect x="395.55" y="474.1" width="2.6" height="2.4" fill="#231f20"/>
<text transform="translate(370,461.3) rotate(-90)" font-size="16.2" font-weight="bold" fill="#1a1a1a" stroke="#1a1a1a" stroke-width="0.3" textLength="134.5" lengthAdjust="spacingAndGlyphs">Deformation (mm)</text>
<text x="403.15" y="500.2" font-size="10" text-anchor="start" font-weight="normal" fill="#333" textLength="82.29" lengthAdjust="spacingAndGlyphs" stroke="#333" stroke-width="0.05">0.45% NaCl+CaCl</text>
<text x="485.1" y="503.1" font-size="6" text-anchor="start" font-weight="normal" fill="#333" stroke="#333" stroke-width="0.05">2</text>
<text x="498.15" y="500.2" font-size="10" text-anchor="start" font-weight="normal" fill="#333" textLength="83.19" lengthAdjust="spacingAndGlyphs" stroke="#333" stroke-width="0.05">0.45% NaCl+MgCl</text>
<text x="581" y="503.1" font-size="6" text-anchor="start" font-weight="normal" fill="#333" stroke="#333" stroke-width="0.05">2</text>
<text x="598.05" y="500.2" font-size="10" text-anchor="start" font-weight="normal" fill="#333" textLength="76.76" lengthAdjust="spacingAndGlyphs" stroke="#333" stroke-width="0.05">Unwashed mince</text>
<text x="294" y="43.3" font-size="17.2" text-anchor="start" font-weight="bold" fill="#1a1a1a" textLength="168.5" lengthAdjust="spacingAndGlyphs" stroke="#1a1a1a" stroke-width="0.2">Two– step heated gel</text>
<text x="305" y="304.6" font-size="17.2" text-anchor="start" font-weight="bold" fill="#1a1a1a" textLength="149.2" lengthAdjust="spacingAndGlyphs" stroke="#1a1a1a" stroke-width="0.2">Directly heated gel</text>
<rect x="63.6" y="3.1" width="10" height="8" fill="#fff"/>
<rect x="63.6" y="3.1" width="1.5" height="8" fill="#231f20"/>
<rect x="72.1" y="3.1" width="1.5" height="8" fill="#231f20"/>
<rect x="63.6" y="3.1" width="10" height="1.5" fill="#231f20"/>
<rect x="63.6" y="9.6" width="10" height="1.5" fill="#231f20"/>
<text x="78.12" y="11.7" font-size="13" text-anchor="start" font-weight="normal" fill="#2a2a2a" textLength="100.21" lengthAdjust="spacingAndGlyphs" stroke="#2a2a2a" stroke-width="0.05">Unwashed mince</text>
<rect x="224" y="3.1" width="10" height="8" fill="#231f20"/>
<text x="241.73" y="11.7" font-size="13" text-anchor="start" font-weight="normal" fill="#2a2a2a" textLength="33.33" lengthAdjust="spacingAndGlyphs" stroke="#2a2a2a" stroke-width="0.05">0 mM</text>
<rect x="300.3" y="3.1" width="10" height="8" fill="#fff"/>
<rect x="300.3" y="6.2" width="10" height="1.5" fill="#231f20"/>
<rect x="300.3" y="3.1" width="1.5" height="8" fill="#231f20"/>
<rect x="308.8" y="3.1" width="1.5" height="8" fill="#231f20"/>
<rect x="300.3" y="3.1" width="10" height="1.5" fill="#231f20"/>
<rect x="300.3" y="9.6" width="10" height="1.5" fill="#231f20"/>
<text x="315.24" y="11.7" font-size="13" text-anchor="start" font-weight="normal" fill="#2a2a2a" textLength="33.02" lengthAdjust="spacingAndGlyphs" stroke="#2a2a2a" stroke-width="0.05">4 mM</text>
<rect x="376.6" y="3.1" width="10" height="8" fill="#fff"/>
<rect x="378.5" y="3.1" width="1.4" height="8" fill="#231f20"/>
<rect x="376.6" y="3.1" width="1.5" height="8" fill="#231f20"/>
<rect x="385.1" y="3.1" width="1.5" height="8" fill="#231f20"/>
<rect x="376.6" y="3.1" width="10" height="1.5" fill="#231f20"/>
<rect x="376.6" y="9.6" width="10" height="1.5" fill="#231f20"/>
<text x="390.28" y="11.7" font-size="13" text-anchor="start" font-weight="normal" fill="#2a2a2a" textLength="32.77" lengthAdjust="spacingAndGlyphs" stroke="#2a2a2a" stroke-width="0.05">8 mM</text>
<rect x="452.6" y="3.1" width="10" height="8" fill="#fff"/>
<rect x="452.6" y="6.3" width="10" height="1.5" fill="#231f20"/>
<rect x="455.5" y="3.1" width="1.3" height="3.6" fill="#231f20"/>
<rect x="452.6" y="3.1" width="1.5" height="8" fill="#231f20"/>
<rect x="461.1" y="3.1" width="1.5" height="8" fill="#231f20"/>
<rect x="452.6" y="3.1" width="10" height="1.5" fill="#231f20"/>
<rect x="452.6" y="9.6" width="10" height="1.5" fill="#231f20"/>
<text x="466.42" y="11.7" font-size="13" text-anchor="start" font-weight="normal" fill="#2a2a2a" textLength="39.87" lengthAdjust="spacingAndGlyphs" stroke="#2a2a2a" stroke-width="0.05">12 mM</text>
<rect x="536.6" y="3.1" width="10" height="8" fill="#fff"/>
<rect x="536.6" y="3.1" width="10" height="8" fill="#231f20"/>
<polygon points="540.8,4.5 545.2,4.5 545.2,9.5" fill="#fff"/>
<polygon points="538,8.3 540,9.7 538,9.7" fill="#fff"/>
<rect x="536.6" y="3.1" width="1.5" height="8" fill="#231f20"/>
<rect x="545.1" y="3.1" width="1.5" height="8" fill="#231f20"/>
<rect x="536.6" y="3.1" width="10" height="1.5" fill="#231f20"/>
<rect x="536.6" y="9.6" width="10" height="1.5" fill="#231f20"/>
<text x="551.2" y="11.7" font-size="13" text-anchor="start" font-weight="normal" fill="#2a2a2a" textLength="40.93" lengthAdjust="spacingAndGlyphs" stroke="#2a2a2a" stroke-width="0.05">16 mM</text>
<rect x="621.1" y="3.1" width="10" height="8" fill="#fff"/>
<rect x="621.1" y="3.1" width="10" height="2.9" fill="#231f20"/>
<rect x="621.1" y="3.1" width="1.5" height="8" fill="#231f20"/>
<rect x="629.6" y="3.1" width="1.5" height="8" fill="#231f20"/>
<rect x="621.1" y="3.1" width="10" height="1.5" fill="#231f20"/>
<rect x="621.1" y="9.6" width="10" height="1.5" fill="#231f20"/>
<text x="635.64" y="11.7" font-size="13" text-anchor="start" font-weight="normal" fill="#2a2a2a" textLength="40.16" lengthAdjust="spacingAndGlyphs" stroke="#2a2a2a" stroke-width="0.05">20 mM</text>
</svg>
</body></html>
